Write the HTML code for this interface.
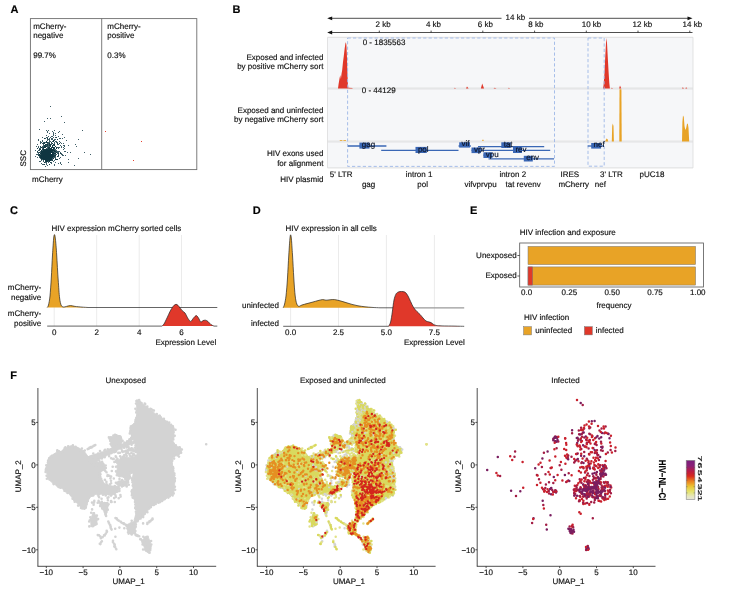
<!DOCTYPE html>
<html><head><meta charset="utf-8"><title>Figure</title>
<style>html,body{margin:0;padding:0;background:#fff}svg{display:block;will-change:transform}text{stroke:#111;stroke-width:.16px}</style></head>
<body>
<svg width="742" height="591" viewBox="0 0 742 591" font-family='"Liberation Sans", Arial, Helvetica, sans-serif' font-size="8" fill="#111" text-rendering="geometricPrecision">
<rect x="0.0" y="0.0" width="742.0" height="591.0" fill="#fff"/>
<text x="10.6" y="12.6" font-size="11" font-weight="bold" fill="#000">A</text>
<text x="232.5" y="12.6" font-size="11" font-weight="bold" fill="#000">B</text>
<text x="10.0" y="213.6" font-size="11" font-weight="bold" fill="#000">C</text>
<text x="252.7" y="213.6" font-size="11" font-weight="bold" fill="#000">D</text>
<text x="470.0" y="213.6" font-size="11" font-weight="bold" fill="#000">E</text>
<text x="10.3" y="378.8" font-size="11" font-weight="bold" fill="#000">F</text>
<rect x="30.4" y="18.6" width="166.4" height="151.0" fill="#fff" stroke="#6e6e6e" stroke-width="0.9"/>
<line x1="101.7" y1="18.6" x2="101.7" y2="169.6" stroke="#6e6e6e" stroke-width="0.9"/>
<text x="33.2" y="28.6">mCherry-</text>
<text x="33.2" y="38.3">negative</text>
<text x="33.2" y="58.3">99.7%</text>
<text x="107.3" y="28.6">mCherry-</text>
<text x="107.3" y="38.3">positive</text>
<text x="107.3" y="58.3">0.3%</text>
<text x="32.0" y="181.5">mCherry</text>
<text transform="translate(26.2,166.5) rotate(-90)">SSC</text>
<path d="M52 156.5h1M47 150.5h1M46 154.5h1M46 153.5h1M46 154.5h1M43 157.5h1M49 159.5h1M47 154.5h1M45 151.5h1M50 152.5h1M43 154.5h1M51 155.5h1M44 153.5h1M48 154.5h1M44 154.5h1M49 160.5h1M43 153.5h1M44 149.5h1M44 152.5h1M50 154.5h1M42 156.5h1M46 151.5h1M45 153.5h1M44 155.5h1M40 154.5h1M50 157.5h1M50 157.5h1M51 152.5h1M49 150.5h1M45 150.5h1M50 158.5h1M46 159.5h1M45 155.5h1M47 152.5h1M48 159.5h1M44 157.5h1M46 159.5h1M48 156.5h1M49 155.5h1M42 158.5h1M42 155.5h1M48 153.5h1M47 158.5h1M47 153.5h1M38 152.5h1M45 154.5h1M44 156.5h1M45 155.5h1M49 153.5h1M46 160.5h1M49 152.5h1M46 156.5h1M50 155.5h1M45 153.5h1M49 156.5h1M45 154.5h1M45 157.5h1M45 156.5h1M49 156.5h1M44 158.5h1M45 156.5h1M44 151.5h1M47 155.5h1M46 155.5h1M45 153.5h1M46 159.5h1M49 154.5h1M48 154.5h1M45 157.5h1M45 151.5h1M44 155.5h1M47 158.5h1M44 157.5h1M48 154.5h1M49 156.5h1M44 157.5h1M43 155.5h1M47 156.5h1M44 155.5h1M46 157.5h1M44 155.5h1M46 152.5h1M55 155.5h1M42 158.5h1M43 156.5h1M49 153.5h1M45 154.5h1M46 151.5h1M43 154.5h1M50 156.5h1M52 156.5h1M45 155.5h1M41 152.5h1M44 155.5h1M49 153.5h1M45 151.5h1M46 155.5h1M48 153.5h1M53 158.5h1M46 154.5h1M46 155.5h1M47 156.5h1M49 158.5h1M50 155.5h1M48 154.5h1M45 159.5h1M45 160.5h1M46 155.5h1M50 155.5h1M48 154.5h1M45 154.5h1M45 159.5h1M46 159.5h1M39 155.5h1M48 154.5h1M50 156.5h1M46 156.5h1M55 155.5h1M47 154.5h1M47 152.5h1M46 161.5h1M50 156.5h1M50 159.5h1M48 160.5h1M50 155.5h1M52 149.5h1M45 155.5h1M44 154.5h1M45 153.5h1M55 156.5h1M46 158.5h1M46 157.5h1M48 159.5h1M42 157.5h1M47 152.5h1M50 153.5h1M51 156.5h1M49 155.5h1M49 150.5h1M47 153.5h1M47 155.5h1M48 153.5h1M52 160.5h1M46 155.5h1M47 158.5h1M52 152.5h1M45 152.5h1M43 151.5h1M48 152.5h1M51 157.5h1M44 152.5h1M45 158.5h1M44 151.5h1M46 156.5h1M45 159.5h1M47 156.5h1M44 155.5h1M46 149.5h1M47 150.5h1M47 151.5h1M53 156.5h1M49 157.5h1M43 149.5h1M46 157.5h1M47 157.5h1M49 151.5h1M47 160.5h1M45 150.5h1M46 154.5h1M48 153.5h1M47 149.5h1M49 159.5h1M50 151.5h1M48 148.5h1M47 155.5h1M44 156.5h1M47 157.5h1M47 155.5h1M41 152.5h1M45 156.5h1M47 158.5h1M44 154.5h1M47 154.5h1M48 153.5h1M51 154.5h1M50 155.5h1M51 151.5h1M48 154.5h1M47 158.5h1M43 152.5h1M44 155.5h1M41 155.5h1M43 152.5h1M45 156.5h1M45 154.5h1M46 154.5h1M39 154.5h1M47 157.5h1M53 156.5h1M47 152.5h1M47 157.5h1M50 153.5h1M47 157.5h1M52 155.5h1M45 153.5h1M46 153.5h1M49 157.5h1M49 158.5h1M45 156.5h1M45 155.5h1M50 155.5h1M41 154.5h1M44 151.5h1M44 157.5h1M52 154.5h1M50 158.5h1M43 155.5h1M46 155.5h1M42 154.5h1M50 158.5h1M52 154.5h1M52 156.5h1M43 157.5h1M46 156.5h1M46 158.5h1M47 154.5h1M49 155.5h1M45 158.5h1M45 153.5h1M45 151.5h1M45 159.5h1M44 155.5h1M43 153.5h1M51 157.5h1M45 155.5h1M44 153.5h1M44 153.5h1M48 156.5h1M48 154.5h1M43 155.5h1M44 157.5h1M48 157.5h1M46 150.5h1M49 158.5h1M42 155.5h1M50 152.5h1M52 154.5h1M43 158.5h1M47 153.5h1M49 150.5h1M52 153.5h1M47 154.5h1M48 157.5h1M44 157.5h1M46 153.5h1M46 152.5h1M44 157.5h1M46 158.5h1M48 152.5h1M41 153.5h1M47 155.5h1M44 157.5h1M41 152.5h1M47 160.5h1M48 152.5h1M48 156.5h1M49 154.5h1M44 155.5h1M48 159.5h1M53 153.5h1M45 155.5h1M46 156.5h1M48 155.5h1M51 154.5h1M43 151.5h1M44 152.5h1M41 156.5h1M47 154.5h1M44 151.5h1M44 159.5h1M40 155.5h1M49 155.5h1M46 157.5h1M43 156.5h1M51 152.5h1M44 155.5h1M50 158.5h1M49 153.5h1M43 155.5h1M48 152.5h1M47 156.5h1M50 152.5h1M48 152.5h1M45 155.5h1M51 163.5h1M47 156.5h1M50 152.5h1M49 152.5h1M51 158.5h1M48 153.5h1M52 155.5h1M47 156.5h1M41 156.5h1M50 156.5h1M47 153.5h1M49 155.5h1M47 153.5h1M49 158.5h1M48 157.5h1M51 159.5h1M47 154.5h1M45 155.5h1M48 157.5h1M45 155.5h1M44 158.5h1M45 156.5h1M44 154.5h1M45 159.5h1M48 154.5h1M44 153.5h1M48 159.5h1M42 153.5h1M46 153.5h1M42 155.5h1M49 151.5h1M47 157.5h1M50 154.5h1M54 156.5h1M44 157.5h1M43 157.5h1M43 157.5h1M45 158.5h1M49 156.5h1M47 157.5h1M41 156.5h1M48 156.5h1M49 164.5h1M47 157.5h1M47 159.5h1M41 159.5h1M45 149.5h1M43 154.5h1M47 155.5h1M49 155.5h1M46 150.5h1M48 157.5h1M45 150.5h1M43 159.5h1M45 153.5h1M44 156.5h1M45 153.5h1M42 155.5h1M50 154.5h1M49 155.5h1M47 155.5h1M47 157.5h1M48 153.5h1M47 155.5h1M48 155.5h1M48 151.5h1M48 158.5h1M43 159.5h1M47 154.5h1M41 157.5h1M44 154.5h1M48 152.5h1M44 152.5h1M46 156.5h1M48 156.5h1M46 155.5h1M45 160.5h1M47 150.5h1M43 159.5h1M43 154.5h1M48 152.5h1M50 159.5h1M44 158.5h1M44 152.5h1M47 155.5h1M45 157.5h1M42 153.5h1M43 157.5h1M49 156.5h1M43 155.5h1M48 151.5h1M44 156.5h1M49 155.5h1M48 156.5h1M47 155.5h1M44 154.5h1M45 160.5h1M47 155.5h1M46 155.5h1M46 156.5h1M47 157.5h1M45 156.5h1M49 152.5h1M47 155.5h1M46 154.5h1M41 158.5h1M44 152.5h1M49 150.5h1M49 156.5h1M48 154.5h1M43 150.5h1M51 154.5h1M45 159.5h1M45 154.5h1M46 154.5h1M43 153.5h1M50 157.5h1M38 150.5h1M48 155.5h1M45 157.5h1M41 158.5h1M47 156.5h1M47 157.5h1M46 153.5h1M49 155.5h1M43 158.5h1M50 158.5h1M47 156.5h1M45 152.5h1M47 155.5h1M45 159.5h1M42 153.5h1M45 158.5h1M46 154.5h1M44 153.5h1M43 157.5h1M48 157.5h1M45 161.5h1M44 150.5h1M46 155.5h1M49 152.5h1M48 159.5h1M44 153.5h1M41 155.5h1M49 157.5h1M49 158.5h1M47 157.5h1M44 153.5h1M47 153.5h1M48 158.5h1M48 153.5h1M44 158.5h1M44 155.5h1M46 155.5h1M50 154.5h1M42 158.5h1M47 157.5h1M47 157.5h1M50 158.5h1M46 154.5h1M48 155.5h1M48 153.5h1M40 156.5h1M49 156.5h1M52 157.5h1M45 157.5h1M46 158.5h1M47 156.5h1M47 155.5h1M42 155.5h1M40 156.5h1M50 160.5h1M48 153.5h1M42 159.5h1M42 157.5h1M40 155.5h1M49 156.5h1M46 153.5h1M44 157.5h1M48 154.5h1M47 153.5h1M50 158.5h1M44 155.5h1M50 153.5h1M53 158.5h1M46 157.5h1M52 152.5h1M48 154.5h1M46 157.5h1M45 151.5h1M42 155.5h1M48 155.5h1M46 155.5h1M50 156.5h1M44 154.5h1M50 153.5h1M45 155.5h1M43 157.5h1M40 158.5h1M45 152.5h1M47 151.5h1M48 157.5h1M45 154.5h1M49 153.5h1M47 156.5h1M51 154.5h1M47 158.5h1M39 154.5h1M41 150.5h1M52 155.5h1M51 154.5h1M48 154.5h1M45 155.5h1M47 158.5h1M46 156.5h1M46 155.5h1M43 157.5h1M45 155.5h1M46 157.5h1M48 155.5h1M47 156.5h1M49 156.5h1M50 159.5h1M48 152.5h1M52 160.5h1M46 154.5h1M40 157.5h1M44 159.5h1M39 155.5h1M49 154.5h1M44 155.5h1M45 154.5h1M46 153.5h1M46 157.5h1M45 155.5h1M44 157.5h1M43 157.5h1M38 153.5h1M42 157.5h1M47 152.5h1M45 158.5h1M46 156.5h1M42 151.5h1M48 160.5h1M45 156.5h1M44 158.5h1M45 154.5h1M41 154.5h1M47 158.5h1M43 157.5h1M45 154.5h1M44 151.5h1M43 159.5h1M43 154.5h1M50 150.5h1M48 153.5h1M47 157.5h1M46 154.5h1M49 156.5h1M44 154.5h1M42 158.5h1M43 155.5h1M52 157.5h1M46 153.5h1M45 157.5h1M47 155.5h1M54 153.5h1M45 154.5h1M47 155.5h1M46 156.5h1M48 154.5h1M39 157.5h1M44 153.5h1M46 152.5h1M44 155.5h1M45 155.5h1M44 154.5h1M43 154.5h1M47 154.5h1M42 154.5h1M47 157.5h1M46 154.5h1M43 159.5h1M43 152.5h1M46 150.5h1M50 155.5h1M48 152.5h1M45 157.5h1M49 161.5h1M50 150.5h1M47 154.5h1M50 154.5h1M48 154.5h1M48 158.5h1M45 150.5h1M43 158.5h1M47 154.5h1M44 157.5h1M47 154.5h1M45 154.5h1M45 156.5h1M50 150.5h1M42 154.5h1M47 151.5h1M45 154.5h1M45 154.5h1M46 157.5h1M49 156.5h1M47 153.5h1M45 156.5h1M47 157.5h1M47 155.5h1M48 151.5h1M46 153.5h1M49 153.5h1M47 154.5h1M48 156.5h1M46 155.5h1M47 157.5h1M45 155.5h1M45 152.5h1M47 156.5h1M44 158.5h1M44 156.5h1M48 151.5h1M46 151.5h1M46 156.5h1M52 156.5h1M42 154.5h1M51 155.5h1M52 153.5h1M45 151.5h1M45 158.5h1M44 157.5h1M48 157.5h1M46 155.5h1M53 152.5h1M49 158.5h1M48 159.5h1M37 154.5h1M43 154.5h1M46 156.5h1M44 157.5h1M42 157.5h1M46 150.5h1M41 150.5h1M43 155.5h1M50 156.5h1M42 149.5h1M45 151.5h1M46 153.5h1M54 150.5h1M47 159.5h1M45 153.5h1M51 149.5h1M41 152.5h1M47 156.5h1M46 160.5h1M46 154.5h1M45 157.5h1M46 154.5h1M51 158.5h1M49 151.5h1M43 154.5h1M46 154.5h1M46 156.5h1M43 155.5h1M45 153.5h1M46 156.5h1M47 153.5h1M47 155.5h1M48 154.5h1M49 156.5h1M43 152.5h1M42 156.5h1M44 154.5h1M46 158.5h1M53 154.5h1M53 156.5h1M50 154.5h1M43 156.5h1M50 151.5h1M46 155.5h1M48 152.5h1M45 157.5h1M52 155.5h1M50 155.5h1M48 154.5h1M46 153.5h1M47 157.5h1M47 156.5h1M45 157.5h1M37 151.5h1M46 150.5h1M48 155.5h1M44 155.5h1M42 153.5h1M45 151.5h1M50 153.5h1M50 154.5h1M48 153.5h1M46 154.5h1M47 158.5h1M45 154.5h1M48 157.5h1M46 154.5h1M45 155.5h1M47 153.5h1M46 157.5h1M47 153.5h1M49 157.5h1M48 156.5h1M45 155.5h1M48 155.5h1M41 155.5h1M48 156.5h1M46 155.5h1M41 151.5h1M38 154.5h1M51 159.5h1M43 156.5h1M50 154.5h1M41 158.5h1M46 154.5h1M52 156.5h1M49 159.5h1M46 152.5h1M49 155.5h1M49 156.5h1M44 155.5h1M46 154.5h1M47 156.5h1M47 152.5h1M49 151.5h1M53 153.5h1M47 158.5h1M46 152.5h1M42 156.5h1M48 157.5h1M48 154.5h1M48 158.5h1M44 164.5h1M45 158.5h1M52 157.5h1M48 157.5h1M51 149.5h1M48 154.5h1M45 155.5h1M47 156.5h1M45 158.5h1M40 153.5h1M43 155.5h1M45 156.5h1M44 158.5h1M49 154.5h1M42 152.5h1M42 158.5h1M49 152.5h1M52 154.5h1M40 157.5h1M51 155.5h1M44 158.5h1M45 155.5h1M48 156.5h1M45 152.5h1M49 149.5h1M48 155.5h1M48 154.5h1M47 157.5h1M43 155.5h1M48 152.5h1M44 159.5h1M50 153.5h1M49 156.5h1M51 158.5h1M39 154.5h1M51 159.5h1M45 152.5h1M47 153.5h1M47 152.5h1M49 156.5h1M48 152.5h1M42 152.5h1M48 150.5h1M49 159.5h1M45 154.5h1M50 157.5h1M45 154.5h1M47 154.5h1M48 156.5h1M51 151.5h1M50 157.5h1M46 156.5h1M50 156.5h1M46 156.5h1M45 152.5h1M44 153.5h1M47 157.5h1M47 158.5h1M46 153.5h1M44 153.5h1M46 158.5h1M42 156.5h1M47 157.5h1M45 157.5h1M45 156.5h1M41 156.5h1M49 151.5h1M49 152.5h1M50 155.5h1M49 156.5h1M43 159.5h1M50 152.5h1M48 156.5h1M45 152.5h1M51 154.5h1M50 160.5h1M48 153.5h1M50 152.5h1M44 162.5h1M44 156.5h1M44 155.5h1M47 149.5h1M45 157.5h1M49 156.5h1M44 156.5h1M45 153.5h1M47 160.5h1M44 157.5h1M48 151.5h1M44 155.5h1M45 156.5h1M44 153.5h1M50 155.5h1M44 155.5h1M52 154.5h1M42 157.5h1M53 158.5h1M43 150.5h1M51 154.5h1M48 154.5h1M52 155.5h1M46 155.5h1M43 155.5h1M46 150.5h1M43 152.5h1M42 156.5h1M50 156.5h1M42 151.5h1M49 154.5h1M46 152.5h1M41 160.5h1M45 154.5h1M43 158.5h1M46 154.5h1M47 155.5h1M51 150.5h1M48 153.5h1M45 153.5h1M48 152.5h1M45 156.5h1M45 154.5h1M48 155.5h1M45 155.5h1M44 157.5h1M43 151.5h1M48 152.5h1M44 154.5h1M49 154.5h1M45 154.5h1M48 153.5h1M47 158.5h1M46 154.5h1M44 153.5h1M43 152.5h1M45 155.5h1M48 154.5h1M47 152.5h1M53 161.5h1M46 156.5h1M47 156.5h1M44 151.5h1M49 152.5h1M47 152.5h1M44 157.5h1M51 154.5h1M45 155.5h1M45 150.5h1M46 149.5h1M48 153.5h1M47 151.5h1M44 156.5h1M50 157.5h1M48 152.5h1M48 155.5h1M45 158.5h1M44 159.5h1M44 153.5h1M46 151.5h1M45 155.5h1M41 153.5h1M42 154.5h1M50 154.5h1M46 155.5h1M43 155.5h1M45 153.5h1M41 153.5h1M49 158.5h1M45 155.5h1M45 152.5h1M41 159.5h1M43 155.5h1M51 154.5h1M46 155.5h1M45 155.5h1M45 157.5h1M48 152.5h1M42 153.5h1M45 153.5h1M49 153.5h1M45 155.5h1M41 156.5h1M48 158.5h1M44 154.5h1M47 154.5h1M42 157.5h1M46 156.5h1M43 157.5h1M46 153.5h1M49 157.5h1M44 157.5h1M51 155.5h1M42 156.5h1M50 152.5h1M52 154.5h1M46 157.5h1M47 158.5h1M47 156.5h1M47 155.5h1M48 156.5h1M46 157.5h1M46 158.5h1M48 155.5h1M44 155.5h1M51 155.5h1M50 155.5h1M46 153.5h1M41 156.5h1M47 155.5h1M49 152.5h1M52 151.5h1M47 152.5h1M46 158.5h1M42 155.5h1M47 155.5h1M47 157.5h1M50 154.5h1M52 156.5h1M47 146.5h1M52 151.5h1M56 150.5h1M42 158.5h1M44 145.5h1M54 145.5h1M54 148.5h1M50 154.5h1M39 152.5h1M46 153.5h1M50 160.5h1M47 152.5h1M58 156.5h1M52 145.5h1M41 150.5h1M47 155.5h1M61 146.5h1M46 156.5h1M49 158.5h1M46 148.5h1M58 155.5h1M42 151.5h1M47 145.5h1M52 153.5h1M46 149.5h1M56 152.5h1M44 142.5h1M42 156.5h1M55 146.5h1M37 152.5h1M47 157.5h1M44 153.5h1M38 146.5h1M45 150.5h1M50 158.5h1M40 161.5h1M44 150.5h1M53 140.5h1M40 148.5h1M48 158.5h1M53 148.5h1M51 150.5h1M55 151.5h1M53 147.5h1M52 146.5h1M48 144.5h1M47 148.5h1M43 154.5h1M52 153.5h1M49 156.5h1M54 157.5h1M50 162.5h1M45 156.5h1M42 164.5h1M46 153.5h1M55 151.5h1M43 143.5h1M46 163.5h1M49 161.5h1M52 150.5h1M41 151.5h1M51 151.5h1M49 155.5h1M46 145.5h1M46 155.5h1M43 147.5h1M43 151.5h1M47 152.5h1M41 152.5h1M44 147.5h1M38 147.5h1M44 153.5h1M49 152.5h1M49 146.5h1M51 156.5h1M51 150.5h1M47 150.5h1M41 150.5h1M40 143.5h1M50 155.5h1M52 150.5h1M48 155.5h1M46 142.5h1M59 158.5h1M54 153.5h1M44 153.5h1M49 145.5h1M45 155.5h1M55 155.5h1M46 146.5h1M58 153.5h1M52 153.5h1M41 163.5h1M51 159.5h1M44 152.5h1M55 151.5h1M44 147.5h1M41 157.5h1M47 143.5h1M55 159.5h1M54 143.5h1M48 159.5h1M43 148.5h1M47 142.5h1M49 157.5h1M51 160.5h1M48 152.5h1M47 149.5h1M42 149.5h1M47 150.5h1M48 153.5h1M51 150.5h1M37 148.5h1M57 156.5h1M46 151.5h1M47 150.5h1M49 156.5h1M54 151.5h1M46 151.5h1M48 158.5h1M44 164.5h1M51 158.5h1M43 151.5h1M45 153.5h1M38 155.5h1M39 154.5h1M53 152.5h1M47 152.5h1M47 154.5h1M52 156.5h1M55 153.5h1M45 150.5h1M42 151.5h1M45 162.5h1M51 162.5h1M39 154.5h1M53 155.5h1M46 154.5h1M49 154.5h1M50 158.5h1M49 154.5h1M48 155.5h1M45 156.5h1M47 157.5h1M45 153.5h1M48 148.5h1M54 155.5h1M49 159.5h1M47 153.5h1M54 165.5h1M49 161.5h1M49 149.5h1M51 159.5h1M49 155.5h1M43 142.5h1M50 146.5h1M48 150.5h1M49 157.5h1M40 152.5h1M47 159.5h1M48 148.5h1M45 161.5h1M43 153.5h1M49 147.5h1M44 143.5h1M43 156.5h1M49 143.5h1M55 146.5h1M43 160.5h1M50 152.5h1M55 152.5h1M50 150.5h1M47 152.5h1M53 149.5h1M47 142.5h1M39 156.5h1M46 151.5h1M51 151.5h1M48 151.5h1M38 155.5h1M55 158.5h1M48 154.5h1M50 160.5h1M54 151.5h1M47 151.5h1M45 149.5h1M47 140.5h1M49 150.5h1M41 151.5h1M44 158.5h1M42 152.5h1M49 148.5h1M41 154.5h1M45 147.5h1M40 155.5h1M55 149.5h1M50 158.5h1M52 149.5h1M50 156.5h1M60 153.5h1M53 156.5h1M51 148.5h1M49 160.5h1M46 154.5h1M44 154.5h1M50 156.5h1M46 150.5h1M45 154.5h1M49 164.5h1M45 156.5h1M45 150.5h1M53 155.5h1M50 146.5h1M60 163.5h1M44 146.5h1M44 154.5h1M43 154.5h1M45 166.5h1M47 150.5h1M58 154.5h1M48 152.5h1M51 150.5h1M48 150.5h1M41 151.5h1M49 160.5h1M49 151.5h1M48 155.5h1M37 151.5h1M37 144.5h1M44 152.5h1M48 153.5h1M54 155.5h1M50 151.5h1M57 159.5h1M45 150.5h1M52 157.5h1M46 158.5h1M42 152.5h1M53 150.5h1M49 153.5h1M47 144.5h1M46 154.5h1M49 156.5h1M53 151.5h1M47 161.5h1M52 153.5h1M47 158.5h1M53 152.5h1M50 153.5h1M48 162.5h1M42 157.5h1M43 149.5h1M52 146.5h1M44 147.5h1M45 154.5h1M54 150.5h1M53 147.5h1M58 151.5h1M46 154.5h1M48 152.5h1M40 157.5h1M51 151.5h1M42 154.5h1M53 144.5h1M42 153.5h1M44 151.5h1M47 156.5h1M52 157.5h1M52 149.5h1M36 154.5h1M50 155.5h1M44 162.5h1M40 156.5h1M51 157.5h1M55 155.5h1M49 151.5h1M51 154.5h1M52 147.5h1M40 153.5h1M50 145.5h1M43 151.5h1M49 154.5h1M53 152.5h1M50 159.5h1M46 164.5h1M46 153.5h1M39 152.5h1M45 149.5h1M49 147.5h1M49 143.5h1M45 159.5h1M48 155.5h1M43 146.5h1M55 157.5h1M52 153.5h1M54 150.5h1M51 156.5h1M43 159.5h1M48 156.5h1M41 147.5h1M46 155.5h1M53 154.5h1M47 155.5h1M47 153.5h1M50 149.5h1M50 145.5h1M44 156.5h1M45 155.5h1M49 152.5h1M55 155.5h1M45 150.5h1M48 145.5h1M53 152.5h1M39 148.5h1M55 154.5h1M58 153.5h1M50 162.5h1M58 148.5h1M52 147.5h1M46 144.5h1M51 148.5h1M44 162.5h1M52 152.5h1M39 154.5h1M37 148.5h1M51 156.5h1M48 156.5h1M49 149.5h1M48 161.5h1M48 154.5h1M50 146.5h1M43 145.5h1M50 151.5h1M42 146.5h1M51 157.5h1M50 153.5h1M50 153.5h1M49 150.5h1M43 149.5h1M49 161.5h1M43 147.5h1M51 156.5h1M44 149.5h1M45 154.5h1M63 149.5h1M49 150.5h1M48 154.5h1M49 147.5h1M43 157.5h1M49 153.5h1M50 148.5h1M53 148.5h1M42 147.5h1M47 165.5h1M48 153.5h1M55 150.5h1M40 149.5h1M45 144.5h1M46 152.5h1M57 156.5h1M48 149.5h1M44 143.5h1M46 141.5h1M46 160.5h1M45 154.5h1M43 143.5h1M48 151.5h1M49 152.5h1M50 149.5h1M50 157.5h1M44 150.5h1M52 154.5h1M46 144.5h1M46 159.5h1M45 151.5h1M43 151.5h1M47 153.5h1M44 146.5h1M57 153.5h1M43 151.5h1M50 157.5h1M49 150.5h1M50 145.5h1M43 158.5h1M48 152.5h1M44 146.5h1M48 152.5h1M56 148.5h1M47 150.5h1M43 161.5h1M54 153.5h1M40 153.5h1M50 149.5h1M39 161.5h1M41 157.5h1M44 150.5h1M52 146.5h1M46 152.5h1M53 157.5h1M48 146.5h1M53 150.5h1M49 143.5h1M46 154.5h1M46 155.5h1M54 160.5h1M45 144.5h1M35 150.5h1M39 154.5h1M37 157.5h1M47 144.5h1M49 155.5h1M50 152.5h1M50 154.5h1M45 152.5h1M41 156.5h1M41 151.5h1M41 156.5h1M48 147.5h1M48 151.5h1M50 152.5h1M47 151.5h1M39 154.5h1M51 147.5h1M49 157.5h1M51 158.5h1M52 150.5h1M58 152.5h1M44 159.5h1M44 156.5h1M44 158.5h1M54 150.5h1M50 156.5h1M47 155.5h1M47 149.5h1M43 154.5h1M50 157.5h1M50 156.5h1M46 161.5h1M44 156.5h1M47 151.5h1M58 155.5h1M43 155.5h1M46 162.5h1M44 153.5h1M46 150.5h1M52 158.5h1M54 152.5h1M45 156.5h1M46 161.5h1M41 155.5h1M42 148.5h1M40 146.5h1M51 149.5h1M43 147.5h1M43 150.5h1M52 153.5h1M48 152.5h1M51 148.5h1M49 147.5h1M43 156.5h1M48 151.5h1M43 155.5h1M58 155.5h1M51 152.5h1M54 151.5h1M62 154.5h1M48 159.5h1M43 149.5h1M44 152.5h1M56 148.5h1M60 157.5h1M56 154.5h1M41 147.5h1M54 151.5h1M50 154.5h1M55 159.5h1M50 153.5h1M53 148.5h1M45 146.5h1M44 145.5h1M52 152.5h1M57 151.5h1M50 151.5h1M52 156.5h1M47 154.5h1M44 150.5h1M43 157.5h1M43 147.5h1M53 152.5h1M41 147.5h1M45 147.5h1M47 147.5h1M42 156.5h1M56 159.5h1M46 155.5h1M47 161.5h1M49 155.5h1M57 159.5h1M48 148.5h1M46 146.5h1M56 152.5h1M51 154.5h1M44 154.5h1M50 152.5h1M48 154.5h1M43 152.5h1M46 149.5h1M49 142.5h1M41 152.5h1M55 155.5h1M44 159.5h1M48 149.5h1M47 160.5h1M52 149.5h1M43 155.5h1M42 150.5h1M51 147.5h1M44 153.5h1M46 159.5h1M48 155.5h1M51 150.5h1M52 159.5h1M47 150.5h1M46 159.5h1M48 150.5h1M42 152.5h1M41 157.5h1M44 146.5h1M52 154.5h1M50 148.5h1M51 154.5h1M48 157.5h1M53 152.5h1M55 155.5h1M47 155.5h1M49 160.5h1M49 152.5h1M48 156.5h1M40 146.5h1M46 155.5h1M51 151.5h1M40 142.5h1M47 150.5h1M49 157.5h1M43 159.5h1M45 151.5h1M48 143.5h1M59 151.5h1M53 149.5h1M40 147.5h1M42 143.5h1M35 156.5h1M44 153.5h1M53 150.5h1M48 157.5h1M49 153.5h1M43 148.5h1M51 151.5h1M54 149.5h1M51 149.5h1M50 152.5h1M38 140.5h1M51 155.5h1M40 141.5h1M52 153.5h1M47 132.5h1M51 149.5h1M52 147.5h1M53 140.5h1M52 150.5h1M49 139.5h1M46 149.5h1M46 153.5h1M51 143.5h1M54 144.5h1M61 154.5h1M46 142.5h1M39 150.5h1M52 146.5h1M42 154.5h1M56 142.5h1M46 141.5h1M54 147.5h1M49 143.5h1M42 141.5h1M40 151.5h1M49 144.5h1M47 138.5h1M38 139.5h1M46 141.5h1M54 150.5h1M44 138.5h1M54 130.5h1M47 149.5h1M50 141.5h1M53 140.5h1M45 146.5h1M48 148.5h1M55 153.5h1M36 146.5h1M52 150.5h1M47 142.5h1M51 139.5h1M40 149.5h1M53 137.5h1M55 139.5h1M51 136.5h1M49 140.5h1M46 146.5h1M52 138.5h1M57 139.5h1M41 142.5h1M59 141.5h1M42 140.5h1M51 148.5h1M51 151.5h1M60 145.5h1M52 145.5h1M51 152.5h1M51 138.5h1M54 154.5h1M51 157.5h1M55 135.5h1M47 137.5h1M47 139.5h1M50 148.5h1M39 149.5h1M49 151.5h1M48 130.5h1M49 147.5h1M51 144.5h1M44 138.5h1M45 138.5h1M49 147.5h1M54 147.5h1M49 148.5h1M49 138.5h1M54 144.5h1M49 152.5h1M52 149.5h1M60 152.5h1M54 145.5h1M39 129.5h1M44 159.5h1M48 142.5h1M52 152.5h1M51 148.5h1M51 142.5h1M46 130.5h1M49 144.5h1M51 150.5h1M42 137.5h1M53 134.5h1M50 144.5h1M52 139.5h1M52 136.5h1M53 144.5h1M47 145.5h1M56 137.5h1M48 136.5h1M54 148.5h1M44 142.5h1M43 144.5h1M54 140.5h1M49 133.5h1M58 136.5h1M49 141.5h1M54 142.5h1M46 135.5h1M55 133.5h1M57 152.5h1M59 138.5h1M45 145.5h1M55 137.5h1M56 137.5h1M53 145.5h1M50 144.5h1M53 133.5h1M55 141.5h1M48 139.5h1M53 147.5h1M47 138.5h1M59 143.5h1M52 143.5h1M55 153.5h1M55 155.5h1M59 131.5h1M46 137.5h1M53 147.5h1M43 155.5h1M51 155.5h1M46 150.5h1M57 143.5h1M52 145.5h1M48 147.5h1M39 149.5h1M50 137.5h1M53 132.5h1M44 152.5h1M53 141.5h1M57 143.5h1M49 145.5h1M53 148.5h1M45 142.5h1M53 152.5h1M51 151.5h1M54 139.5h1M49 158.5h1M48 150.5h1M43 164.5h1M46 149.5h1M53 135.5h1M49 152.5h1M46 151.5h1M48 153.5h1M62 138.5h1M52 141.5h1M45 145.5h1M51 148.5h1M52 131.5h1M47 131.5h1M51 150.5h1M51 142.5h1M52 150.5h1M53 141.5h1M48 153.5h1M50 146.5h1M50 149.5h1M58 147.5h1M56 148.5h1M53 154.5h1M68 162.5h1M64 151.5h1M64 146.5h1M53 154.5h1M54 156.5h1M55 162.5h1M70 152.5h1M55 146.5h1M52 143.5h1M56 147.5h1M60 153.5h1M56 151.5h1M62 155.5h1M61 147.5h1M64 145.5h1M64 137.5h1M56 147.5h1M60 138.5h1M57 142.5h1M58 163.5h1M54 164.5h1M52 155.5h1M78 158.5h1M58 132.5h1M61 153.5h1M60 142.5h1M57 139.5h1M65 155.5h1M75 144.5h1M53 154.5h1M59 143.5h1M56 141.5h1M61 164.5h1M74 165.5h1M68 145.5h1M65 151.5h1M63 145.5h1M60 162.5h1M66 140.5h1M57 144.5h1M76 146.5h1M61 143.5h1M62 134.5h1M52 143.5h1M56 159.5h1M63 155.5h1M64 148.5h1M59 147.5h1M54 145.5h1M63 143.5h1M67 152.5h1M54 153.5h1M57 147.5h1M63 147.5h1M68 159.5h1M58 144.5h1M50 106.5h1M61 116.5h1M64 122.5h1M82 130.5h1M78 139.5h1M84 152.5h1M90 154.5h1M47 118.5h1M44 121.5h1M50 118.5h1" stroke="#0f3641" stroke-width="1" fill="none" stroke-opacity="0.8"/>
<path d="M105 131.5h1M141 141.5h1M133 160.5h1" stroke="#e8402e" stroke-width="1" fill="none"/>
<line x1="329.0" y1="18.3" x2="501.5" y2="18.3" stroke="#222" stroke-width="0.8"/>
<line x1="529.0" y1="18.3" x2="690.0" y2="18.3" stroke="#222" stroke-width="0.8"/>
<polygon points="327.2,18.3 332.2,16.4 332.2,20.2" fill="#111"/>
<polygon points="692.5,18.3 687.5,16.4 687.5,20.2" fill="#111"/>
<text x="515.4" y="20.2" text-anchor="middle">14 kb</text>
<line x1="329.0" y1="32.5" x2="692.5" y2="32.5" stroke="#222" stroke-width="0.8"/>
<polygon points="327.2,32.5 332.2,30.6 332.2,34.4" fill="#111"/>
<line x1="379.3" y1="30.6" x2="379.3" y2="32.5" stroke="#222" stroke-width="0.8"/>
<text x="383.1" y="27.0" text-anchor="middle">2 kb</text>
<line x1="431.1" y1="30.6" x2="431.1" y2="32.5" stroke="#222" stroke-width="0.8"/>
<text x="433.5" y="27.0" text-anchor="middle">4 kb</text>
<line x1="482.8" y1="30.6" x2="482.8" y2="32.5" stroke="#222" stroke-width="0.8"/>
<text x="485.4" y="27.0" text-anchor="middle">6 kb</text>
<line x1="534.6" y1="30.6" x2="534.6" y2="32.5" stroke="#222" stroke-width="0.8"/>
<text x="535.9" y="27.0" text-anchor="middle">8 kb</text>
<line x1="586.3" y1="30.6" x2="586.3" y2="32.5" stroke="#222" stroke-width="0.8"/>
<text x="591.5" y="27.0" text-anchor="middle">10 kb</text>
<line x1="638.0" y1="30.6" x2="638.0" y2="32.5" stroke="#222" stroke-width="0.8"/>
<text x="642.4" y="27.0" text-anchor="middle">12 kb</text>
<line x1="689.8" y1="30.6" x2="689.8" y2="32.5" stroke="#222" stroke-width="0.8"/>
<text x="692.4" y="27.0" text-anchor="middle">14 kb</text>
<rect x="327.5" y="37.3" width="365.5" height="130.6" fill="#f6f7f9"/>
<line x1="327.5" y1="37.3" x2="693.0" y2="37.3" stroke="#d8d8d8" stroke-width="0.8"/>
<line x1="327.5" y1="88.9" x2="693.0" y2="88.9" stroke="#d8d8d8" stroke-width="0.8"/>
<line x1="327.5" y1="141.9" x2="693.0" y2="141.9" stroke="#d8d8d8" stroke-width="0.8"/>
<line x1="327.5" y1="167.9" x2="693.0" y2="167.9" stroke="#d8d8d8" stroke-width="0.8"/>
<line x1="327.5" y1="87.7" x2="693.0" y2="87.7" stroke="#e3e3e3" stroke-width="0.6"/>
<line x1="327.5" y1="140.8" x2="693.0" y2="140.8" stroke="#e3e3e3" stroke-width="0.6"/>
<line x1="327.5" y1="37.3" x2="327.5" y2="167.9" stroke="#dcdcdc" stroke-width="0.8"/>
<line x1="693.0" y1="37.3" x2="693.0" y2="167.9" stroke="#dcdcdc" stroke-width="0.8"/>
<path d="M338.0 88.6 L338.6 84.0 L339.6 78.0 L340.3 75.0 L340.9 79.0 L341.5 74.0 L342.2 70.0 L343.0 62.0 L343.8 56.0 L344.6 49.0 L345.4 43.5 L345.9 42.2 L346.4 45.0 L346.9 55.0 L347.4 72.0 L347.9 84.0 L348.4 88.6Z" fill="#E0382A"/>
<path d="M348.4 88.6 L348.4 87.8 L352.5 87.9 L352.5 88.6Z" fill="#E0382A"/>
<path d="M603.0 88.6 L603.6 85.0 L604.4 74.0 L605.2 58.0 L606.0 43.0 L606.5 38.0 L607.0 43.0 L607.8 58.0 L608.6 72.0 L609.3 83.0 L609.9 88.6Z" fill="#E0382A"/>
<path d="M454.0 88.6 L454.8 87.7 L456.0 88.6Z" fill="#E0382A"/>
<path d="M466.0 88.6 L467.0 86.4 L468.6 88.6Z" fill="#E0382A"/>
<path d="M480.9 88.6 L482.2 83.6 L484.1 88.6Z" fill="#E0382A"/>
<path d="M493.5 88.6 L494.7 87.7 L496.5 88.6Z" fill="#E0382A"/>
<path d="M508.0 88.6 L508.8 87.7 L510.0 88.6Z" fill="#E0382A"/>
<path d="M611.0 88.6 L611.8 87.8 L613.0 88.6Z" fill="#E0382A"/>
<path d="M619.1 88.6 L620.0 85.6 L621.3 88.6Z" fill="#E0382A"/>
<path d="M682.0 88.6 L682.8 87.3 L684.0 88.6Z" fill="#E0382A"/>
<path d="M685.3 88.6 L686.1 87.3 L687.3 88.6Z" fill="#E0382A"/>
<path d="M605.0 141.6 L605.8 140.0 L606.6 138.6 L607.6 139.3 L608.3 141.6Z" fill="#E8A326"/>
<path d="M611.8 141.6 L612.2 126.0 L612.8 123.4 L613.5 126.0 L613.9 141.6Z" fill="#E8A326"/>
<path d="M619.3 141.6 L619.5 89.3 L621.4 89.3 L621.7 141.6Z" fill="#E8A326"/>
<path d="M682.0 141.6 L682.4 122.0 L683.0 115.4 L683.8 117.0 L684.5 126.0 L685.3 130.0 L686.2 128.0 L687.0 124.0 L687.8 123.4 L688.5 128.0 L689.2 141.6Z" fill="#E8A326"/>
<line x1="339.8" y1="140.5" x2="346.4" y2="140.5" stroke="#E8A326" stroke-width="0.8" stroke-dasharray="2.6 1"/>
<line x1="482.0" y1="140.3" x2="483.8" y2="140.3" stroke="#E8A326" stroke-width="0.9"/>
<rect x="347.6" y="38.0" width="206.9" height="128.4" fill="none" stroke="#9db7e6" stroke-width="0.9" stroke-dasharray="3.2 2.2"/>
<rect x="588.0" y="38.0" width="16.2" height="128.2" fill="none" stroke="#9db7e6" stroke-width="0.9" stroke-dasharray="3.2 2.2"/>
<line x1="347.9" y1="146.0" x2="386.4" y2="146.0" stroke="#3a67b5" stroke-width="1.3"/>
<rect x="359.4" y="142.6" width="10.1" height="6.0" fill="#3a67b5"/>
<line x1="381.2" y1="150.3" x2="458.5" y2="150.3" stroke="#3a67b5" stroke-width="1.3"/>
<rect x="415.5" y="146.9" width="11.3" height="6.1" fill="#3a67b5"/>
<line x1="458.5" y1="146.0" x2="471.0" y2="146.0" stroke="#3a67b5" stroke-width="1.3"/>
<rect x="459.2" y="142.3" width="10.8" height="5.3" fill="#3a67b5"/>
<line x1="471.5" y1="150.3" x2="481.5" y2="150.3" stroke="#3a67b5" stroke-width="1.3"/>
<rect x="471.5" y="147.5" width="9.5" height="5.6" fill="#3a67b5"/>
<line x1="478.0" y1="146.6" x2="544.2" y2="146.6" stroke="#3a67b5" stroke-width="1.3"/>
<rect x="501.3" y="142.3" width="9.5" height="5.7" fill="#3a67b5"/>
<line x1="481.0" y1="150.4" x2="550.2" y2="150.4" stroke="#3a67b5" stroke-width="1.3"/>
<rect x="513.0" y="147.0" width="9.0" height="6.0" fill="#3a67b5"/>
<line x1="483.4" y1="155.2" x2="492.3" y2="155.2" stroke="#3a67b5" stroke-width="1.3"/>
<rect x="483.4" y="152.3" width="8.9" height="5.7" fill="#3a67b5"/>
<line x1="488.5" y1="158.9" x2="554.0" y2="158.9" stroke="#3a67b5" stroke-width="1.3"/>
<rect x="523.8" y="155.8" width="9.0" height="5.7" fill="#3a67b5"/>
<line x1="587.7" y1="146.0" x2="604.0" y2="146.0" stroke="#3a67b5" stroke-width="1.3"/>
<rect x="591.2" y="143.0" width="9.9" height="5.6" fill="#3a67b5"/>
<text x="361.8" y="147.2" fill="#0a1630">gag</text>
<text x="417.9" y="151.6" fill="#0a1630">pol</text>
<text x="461.6" y="146.2" fill="#0a1630">vif</text>
<text x="473.9" y="151.7" fill="#0a1630">vpr</text>
<text x="503.7" y="146.6" fill="#0a1630">tat</text>
<text x="515.4" y="151.6" fill="#0a1630">rev</text>
<text x="485.8" y="156.6" fill="#0a1630">vpu</text>
<text x="526.2" y="160.1" fill="#0a1630">env</text>
<text x="593.6" y="147.2" fill="#0a1630">nef</text>
<text x="323.4" y="59.8" text-anchor="end">Exposed and infected</text>
<text x="323.4" y="69.3" text-anchor="end">by positive mCherry sort</text>
<text x="323.4" y="112.8" text-anchor="end">Exposed and uninfected</text>
<text x="323.4" y="122.3" text-anchor="end">by negative mCherry sort</text>
<text x="323.4" y="155.9" text-anchor="end">HIV exons used</text>
<text x="323.4" y="165.6" text-anchor="end">for alignment</text>
<text x="323.4" y="181.8" text-anchor="end">HIV plasmid</text>
<text x="362.7" y="44.6">0 - 1835563</text>
<text x="361.8" y="92.6">0 - 44129</text>
<text x="329.7" y="177.2">5' LTR</text>
<text x="405.7" y="177.2">intron 1</text>
<text x="499.4" y="177.2">intron 2</text>
<text x="560.5" y="177.2">IRES</text>
<text x="600.0" y="177.2">3' LTR</text>
<text x="639.6" y="177.2">pUC18</text>
<text x="361.9" y="186.6">gag</text>
<text x="417.3" y="186.6">pol</text>
<text x="464.6" y="186.6">vifvprvpu</text>
<text x="505.5" y="186.6">tat revenv</text>
<text x="558.4" y="186.6">mCherry</text>
<text x="594.8" y="186.6">nef</text>
<text x="51.5" y="231.0">HIV expression mCherry sorted cells</text>
<line x1="54.2" y1="235.0" x2="54.2" y2="326.2" stroke="#e6e6e6" stroke-width="0.8"/>
<line x1="96.7" y1="235.0" x2="96.7" y2="326.2" stroke="#e6e6e6" stroke-width="0.8"/>
<line x1="139.2" y1="235.0" x2="139.2" y2="326.2" stroke="#e6e6e6" stroke-width="0.8"/>
<line x1="181.5" y1="235.0" x2="181.5" y2="326.2" stroke="#e6e6e6" stroke-width="0.8"/>
<path d="M47.2 307.5C47.4 307.1 48.1 306.8 48.5 305.0C48.9 303.2 49.6 300.3 50.0 296.0C50.4 291.7 50.9 284.6 51.3 278.0C51.7 271.4 52.1 261.2 52.5 255.0C52.9 248.8 53.3 242.3 53.6 239.0C53.9 235.7 54.2 234.6 54.5 234.6C54.8 234.6 55.0 235.7 55.4 239.0C55.8 242.3 56.3 248.4 56.7 255.0C57.1 261.6 57.7 273.1 58.2 280.0C58.7 286.9 59.1 294.0 59.6 298.0C60.1 302.0 60.6 303.9 61.2 305.3C61.8 306.7 62.7 306.8 63.5 307.0C64.3 307.2 65.4 306.6 66.5 306.4C67.6 306.2 69.1 305.6 70.5 305.6C71.9 305.6 73.2 306.2 75.0 306.4C76.8 306.6 79.9 306.9 82.0 307.1C84.1 307.3 87.0 307.4 88.0 307.5L88.0 307.5L47.2 307.5Z" fill="#E8A326"/>
<path d="M47.2 307.5L47.2 307.5" fill="none"/>
<path d="M47.2 307.5L47.2 307.5C47.4 307.1 48.1 306.8 48.5 305.0C48.9 303.2 49.6 300.3 50.0 296.0C50.4 291.7 50.9 284.6 51.3 278.0C51.7 271.4 52.1 261.2 52.5 255.0C52.9 248.8 53.3 242.3 53.6 239.0C53.9 235.7 54.2 234.6 54.5 234.6C54.8 234.6 55.0 235.7 55.4 239.0C55.8 242.3 56.3 248.4 56.7 255.0C57.1 261.6 57.7 273.1 58.2 280.0C58.7 286.9 59.1 294.0 59.6 298.0C60.1 302.0 60.6 303.9 61.2 305.3C61.8 306.7 62.7 306.8 63.5 307.0C64.3 307.2 65.4 306.6 66.5 306.4C67.6 306.2 69.1 305.6 70.5 305.6C71.9 305.6 73.2 306.2 75.0 306.4C76.8 306.6 79.9 306.9 82.0 307.1C84.1 307.3 87.0 307.4 88.0 307.5L217.3 307.5" fill="none" stroke="#222" stroke-width="0.7" stroke-linejoin="round"/>
<path d="M161.8 326.1C162.2 325.8 163.2 325.3 164.0 324.0C164.8 322.7 166.0 320.0 167.0 318.0C168.0 316.0 169.0 313.3 170.0 311.5C171.0 309.7 172.2 307.6 173.0 306.5C173.8 305.4 174.6 304.9 175.2 304.6C175.8 304.3 176.4 304.3 177.0 304.6C177.6 304.9 178.2 305.6 179.0 306.5C179.8 307.4 181.0 309.5 182.0 310.5C183.0 311.5 184.0 311.7 185.0 313.0C186.0 314.3 187.1 317.2 188.0 318.5C188.9 319.8 189.9 321.5 190.8 321.4C191.7 321.3 192.6 318.9 193.5 318.0C194.4 317.1 195.5 315.6 196.3 315.6C197.1 315.6 197.8 317.0 198.5 318.0C199.2 319.0 200.1 321.6 200.8 322.0C201.5 322.4 202.2 320.9 203.0 320.6C203.8 320.3 204.7 320.1 205.5 320.2C206.3 320.3 207.1 320.8 208.0 321.5C208.9 322.2 210.0 323.9 211.0 324.6C212.0 325.3 213.5 325.9 214.0 326.1L214.0 326.1L161.8 326.1Z" fill="#E0382A"/>
<path d="M47.2 326.1L161.8 326.1" fill="none"/>
<path d="M47.2 326.1L161.8 326.1C162.2 325.8 163.2 325.3 164.0 324.0C164.8 322.7 166.0 320.0 167.0 318.0C168.0 316.0 169.0 313.3 170.0 311.5C171.0 309.7 172.2 307.6 173.0 306.5C173.8 305.4 174.6 304.9 175.2 304.6C175.8 304.3 176.4 304.3 177.0 304.6C177.6 304.9 178.2 305.6 179.0 306.5C179.8 307.4 181.0 309.5 182.0 310.5C183.0 311.5 184.0 311.7 185.0 313.0C186.0 314.3 187.1 317.2 188.0 318.5C188.9 319.8 189.9 321.5 190.8 321.4C191.7 321.3 192.6 318.9 193.5 318.0C194.4 317.1 195.5 315.6 196.3 315.6C197.1 315.6 197.8 317.0 198.5 318.0C199.2 319.0 200.1 321.6 200.8 322.0C201.5 322.4 202.2 320.9 203.0 320.6C203.8 320.3 204.7 320.1 205.5 320.2C206.3 320.3 207.1 320.8 208.0 321.5C208.9 322.2 210.0 323.9 211.0 324.6C212.0 325.3 213.5 325.9 214.0 326.1L217.3 326.1" fill="none" stroke="#222" stroke-width="0.7" stroke-linejoin="round"/>
<text x="54.2" y="335.2" text-anchor="middle">0</text>
<text x="96.7" y="335.2" text-anchor="middle">2</text>
<text x="139.2" y="335.2" text-anchor="middle">4</text>
<text x="181.5" y="335.2" text-anchor="middle">6</text>
<text x="216.3" y="345.0" text-anchor="end">Expression Level</text>
<text x="41.2" y="290.4" text-anchor="end">mCherry-</text>
<text x="41.2" y="299.9" text-anchor="end">negative</text>
<text x="41.2" y="316.3" text-anchor="end">mCherry-</text>
<text x="41.2" y="325.8" text-anchor="end">positive</text>
<text x="285.6" y="231.0">HIV expression in all cells</text>
<line x1="290.6" y1="235.0" x2="290.6" y2="326.4" stroke="#e6e6e6" stroke-width="0.8"/>
<line x1="338.5" y1="235.0" x2="338.5" y2="326.4" stroke="#e6e6e6" stroke-width="0.8"/>
<line x1="386.4" y1="235.0" x2="386.4" y2="326.4" stroke="#e6e6e6" stroke-width="0.8"/>
<line x1="434.4" y1="235.0" x2="434.4" y2="326.4" stroke="#e6e6e6" stroke-width="0.8"/>
<line x1="393.0" y1="307.8" x2="464.2" y2="307.8" stroke="#9a9a9a" stroke-width="1.3"/>
<path d="M283.2 307.8C283.4 307.2 284.2 305.9 284.6 304.0C285.0 302.1 285.5 300.2 286.0 296.0C286.5 291.8 287.1 284.6 287.5 278.0C287.9 271.4 288.4 261.2 288.8 255.0C289.2 248.8 289.6 242.2 289.9 239.0C290.2 235.8 290.4 234.8 290.6 234.8C290.8 234.8 291.1 235.8 291.4 239.0C291.7 242.2 292.1 248.8 292.5 255.0C292.9 261.2 293.4 271.4 293.8 278.0C294.2 284.6 294.7 291.8 295.2 296.0C295.7 300.2 296.2 302.4 296.8 304.0C297.4 305.6 298.0 306.1 298.8 306.3C299.6 306.5 300.7 305.4 302.0 305.0C303.3 304.6 305.2 304.1 307.0 303.6C308.8 303.1 311.2 302.5 313.0 302.0C314.8 301.5 316.5 301.0 318.0 300.6C319.5 300.2 321.2 299.7 322.5 299.6C323.8 299.5 324.8 300.2 326.0 300.2C327.2 300.2 328.6 299.9 330.0 299.8C331.4 299.7 332.9 299.4 334.5 299.6C336.1 299.8 338.2 300.3 340.0 300.8C341.8 301.3 344.1 302.0 346.0 302.6C347.9 303.2 350.1 303.9 352.0 304.4C353.9 304.9 355.9 305.4 358.0 305.8C360.1 306.2 362.8 306.5 365.0 306.8C367.2 307.1 369.6 307.2 372.0 307.4C374.4 307.6 378.7 307.7 380.0 307.8L380.0 307.8L283.2 307.8Z" fill="#E8A326"/>
<path d="M283.2 307.8L283.2 307.8" fill="none"/>
<path d="M283.2 307.8L283.2 307.8C283.4 307.2 284.2 305.9 284.6 304.0C285.0 302.1 285.5 300.2 286.0 296.0C286.5 291.8 287.1 284.6 287.5 278.0C287.9 271.4 288.4 261.2 288.8 255.0C289.2 248.8 289.6 242.2 289.9 239.0C290.2 235.8 290.4 234.8 290.6 234.8C290.8 234.8 291.1 235.8 291.4 239.0C291.7 242.2 292.1 248.8 292.5 255.0C292.9 261.2 293.4 271.4 293.8 278.0C294.2 284.6 294.7 291.8 295.2 296.0C295.7 300.2 296.2 302.4 296.8 304.0C297.4 305.6 298.0 306.1 298.8 306.3C299.6 306.5 300.7 305.4 302.0 305.0C303.3 304.6 305.2 304.1 307.0 303.6C308.8 303.1 311.2 302.5 313.0 302.0C314.8 301.5 316.5 301.0 318.0 300.6C319.5 300.2 321.2 299.7 322.5 299.6C323.8 299.5 324.8 300.2 326.0 300.2C327.2 300.2 328.6 299.9 330.0 299.8C331.4 299.7 332.9 299.4 334.5 299.6C336.1 299.8 338.2 300.3 340.0 300.8C341.8 301.3 344.1 302.0 346.0 302.6C347.9 303.2 350.1 303.9 352.0 304.4C353.9 304.9 355.9 305.4 358.0 305.8C360.1 306.2 362.8 306.5 365.0 306.8C367.2 307.1 369.6 307.2 372.0 307.4C374.4 307.6 378.7 307.7 380.0 307.8L394 307.8" fill="none" stroke="#222" stroke-width="0.7" stroke-linejoin="round"/>
<path d="M388.6 326.3C388.9 325.6 390.0 324.3 390.6 322.0C391.2 319.7 391.8 315.5 392.3 312.0C392.8 308.5 393.4 302.8 394.0 300.0C394.6 297.2 395.2 295.6 395.8 294.4C396.4 293.2 396.9 292.8 397.6 292.4C398.3 292.0 399.1 291.7 400.0 291.6C400.9 291.5 402.1 291.4 403.0 291.6C403.9 291.8 404.8 291.9 405.6 292.6C406.4 293.3 407.2 294.6 408.0 296.0C408.8 297.4 409.7 299.6 410.6 301.5C411.5 303.4 412.6 306.0 413.6 307.6C414.6 309.2 416.0 310.5 417.0 311.6C418.0 312.7 419.0 313.4 420.0 314.4C421.0 315.4 422.0 316.9 423.0 318.0C424.0 319.1 425.1 320.4 426.0 321.0C426.9 321.6 427.8 321.5 428.6 321.8C429.4 322.1 430.2 322.2 431.0 322.6C431.8 323.0 432.6 323.9 433.5 324.4C434.4 324.9 435.1 325.3 436.5 325.5C437.9 325.7 439.0 325.8 442.0 325.9C445.0 326.0 451.4 326.0 455.0 326.1C458.6 326.2 462.7 326.3 464.2 326.3L464.2 326.3L388.6 326.3Z" fill="#E0382A"/>
<path d="M283.2 326.3L388.6 326.3" fill="none"/>
<path d="M283.2 326.3L388.6 326.3C388.9 325.6 390.0 324.3 390.6 322.0C391.2 319.7 391.8 315.5 392.3 312.0C392.8 308.5 393.4 302.8 394.0 300.0C394.6 297.2 395.2 295.6 395.8 294.4C396.4 293.2 396.9 292.8 397.6 292.4C398.3 292.0 399.1 291.7 400.0 291.6C400.9 291.5 402.1 291.4 403.0 291.6C403.9 291.8 404.8 291.9 405.6 292.6C406.4 293.3 407.2 294.6 408.0 296.0C408.8 297.4 409.7 299.6 410.6 301.5C411.5 303.4 412.6 306.0 413.6 307.6C414.6 309.2 416.0 310.5 417.0 311.6C418.0 312.7 419.0 313.4 420.0 314.4C421.0 315.4 422.0 316.9 423.0 318.0C424.0 319.1 425.1 320.4 426.0 321.0C426.9 321.6 427.8 321.5 428.6 321.8C429.4 322.1 430.2 322.2 431.0 322.6C431.8 323.0 432.6 323.9 433.5 324.4C434.4 324.9 435.1 325.3 436.5 325.5C437.9 325.7 439.0 325.8 442.0 325.9C445.0 326.0 451.4 326.0 455.0 326.1C458.6 326.2 462.7 326.3 464.2 326.3L464.2 326.3" fill="none" stroke="#222" stroke-width="0.7" stroke-linejoin="round"/>
<text x="290.6" y="335.2" text-anchor="middle">0.0</text>
<text x="338.5" y="335.2" text-anchor="middle">2.5</text>
<text x="386.4" y="335.2" text-anchor="middle">5.0</text>
<text x="434.4" y="335.2" text-anchor="middle">7.5</text>
<text x="464.8" y="345.0" text-anchor="end">Expression Level</text>
<text x="279.0" y="308.3" text-anchor="end">uninfected</text>
<text x="279.0" y="326.1" text-anchor="end">infected</text>
<text x="519.7" y="235.0">HIV infection and exposure</text>
<rect x="519.7" y="243.0" width="183.9" height="44.0" fill="#fff" stroke="#555" stroke-width="0.8"/>
<rect x="528.0" y="246.4" width="167.6" height="18.2" fill="#E8A326" stroke="#777" stroke-width="0.5"/>
<rect x="528.0" y="266.9" width="167.6" height="18.2" fill="#E8A326" stroke="#777" stroke-width="0.5"/>
<rect x="528.0" y="266.9" width="4.6" height="18.2" fill="#E0382A" stroke="#777" stroke-width="0.5"/>
<line x1="517.4" y1="255.5" x2="519.7" y2="255.5" stroke="#333" stroke-width="0.8"/>
<line x1="517.4" y1="276.0" x2="519.7" y2="276.0" stroke="#333" stroke-width="0.8"/>
<text x="516.6" y="257.9" text-anchor="end">Unexposed</text>
<text x="516.6" y="277.6" text-anchor="end">Exposed</text>
<text x="526.6" y="295.2" text-anchor="middle">0.0</text>
<text x="569.4" y="295.2" text-anchor="middle">0.25</text>
<text x="612.2" y="295.2" text-anchor="middle">0.50</text>
<text x="655.0" y="295.2" text-anchor="middle">0.75</text>
<text x="697.8" y="295.2" text-anchor="middle">1.00</text>
<text x="614.0" y="308.1" text-anchor="middle">frequency</text>
<text x="523.9" y="319.8">HIV infection</text>
<rect x="523.6" y="326.7" width="7.9" height="8.2" fill="#E8A326" stroke="#777" stroke-width="0.5"/>
<text x="535.3" y="333.0">uninfected</text>
<rect x="584.4" y="326.7" width="7.9" height="8.2" fill="#E0382A" stroke="#777" stroke-width="0.5"/>
<text x="595.7" y="333.0">infected</text>
<line x1="37.9" y1="388.0" x2="37.9" y2="566.3" stroke="#222" stroke-width="0.8"/>
<line x1="37.5" y1="566.3" x2="216.2" y2="566.3" stroke="#222" stroke-width="0.8"/>
<line x1="36.1" y1="422.4" x2="37.9" y2="422.4" stroke="#222" stroke-width="0.8"/>
<text x="35.7" y="425.3" text-anchor="end">5</text>
<line x1="36.1" y1="464.9" x2="37.9" y2="464.9" stroke="#222" stroke-width="0.8"/>
<text x="35.7" y="467.8" text-anchor="end">0</text>
<line x1="36.1" y1="507.3" x2="37.9" y2="507.3" stroke="#222" stroke-width="0.8"/>
<text x="35.7" y="510.2" text-anchor="end">−5</text>
<line x1="36.1" y1="549.8" x2="37.9" y2="549.8" stroke="#222" stroke-width="0.8"/>
<text x="35.7" y="552.7" text-anchor="end">−10</text>
<line x1="46.3" y1="566.3" x2="46.3" y2="568.1" stroke="#222" stroke-width="0.8"/>
<text x="46.3" y="574.6" text-anchor="middle">−10</text>
<line x1="83.1" y1="566.3" x2="83.1" y2="568.1" stroke="#222" stroke-width="0.8"/>
<text x="83.1" y="574.6" text-anchor="middle">−5</text>
<line x1="119.9" y1="566.3" x2="119.9" y2="568.1" stroke="#222" stroke-width="0.8"/>
<text x="119.9" y="574.6" text-anchor="middle">0</text>
<line x1="156.7" y1="566.3" x2="156.7" y2="568.1" stroke="#222" stroke-width="0.8"/>
<text x="156.7" y="574.6" text-anchor="middle">5</text>
<line x1="193.5" y1="566.3" x2="193.5" y2="568.1" stroke="#222" stroke-width="0.8"/>
<text x="193.5" y="574.6" text-anchor="middle">10</text>
<text x="128.6" y="583.5" text-anchor="middle">UMAP_1</text>
<text transform="translate(21.3,476.2) rotate(-90)" text-anchor="middle">UMAP_2</text>
<text x="125.7" y="382.8" text-anchor="middle">Unexposed</text>
<line x1="257.3" y1="388.0" x2="257.3" y2="566.3" stroke="#222" stroke-width="0.8"/>
<line x1="256.9" y1="566.3" x2="435.6" y2="566.3" stroke="#222" stroke-width="0.8"/>
<line x1="255.5" y1="422.4" x2="257.3" y2="422.4" stroke="#222" stroke-width="0.8"/>
<text x="255.1" y="425.3" text-anchor="end">5</text>
<line x1="255.5" y1="464.9" x2="257.3" y2="464.9" stroke="#222" stroke-width="0.8"/>
<text x="255.1" y="467.8" text-anchor="end">0</text>
<line x1="255.5" y1="507.3" x2="257.3" y2="507.3" stroke="#222" stroke-width="0.8"/>
<text x="255.1" y="510.2" text-anchor="end">−5</text>
<line x1="255.5" y1="549.8" x2="257.3" y2="549.8" stroke="#222" stroke-width="0.8"/>
<text x="255.1" y="552.7" text-anchor="end">−10</text>
<line x1="266.6" y1="566.3" x2="266.6" y2="568.1" stroke="#222" stroke-width="0.8"/>
<text x="266.6" y="574.6" text-anchor="middle">−10</text>
<line x1="303.4" y1="566.3" x2="303.4" y2="568.1" stroke="#222" stroke-width="0.8"/>
<text x="303.4" y="574.6" text-anchor="middle">−5</text>
<line x1="340.2" y1="566.3" x2="340.2" y2="568.1" stroke="#222" stroke-width="0.8"/>
<text x="340.2" y="574.6" text-anchor="middle">0</text>
<line x1="377.0" y1="566.3" x2="377.0" y2="568.1" stroke="#222" stroke-width="0.8"/>
<text x="377.0" y="574.6" text-anchor="middle">5</text>
<line x1="413.8" y1="566.3" x2="413.8" y2="568.1" stroke="#222" stroke-width="0.8"/>
<text x="413.8" y="574.6" text-anchor="middle">10</text>
<text x="348.9" y="583.5" text-anchor="middle">UMAP_1</text>
<text transform="translate(240.7,476.2) rotate(-90)" text-anchor="middle">UMAP_2</text>
<text x="342.9" y="382.8" text-anchor="middle">Exposed and uninfected</text>
<line x1="477.2" y1="388.0" x2="477.2" y2="566.3" stroke="#222" stroke-width="0.8"/>
<line x1="476.8" y1="566.3" x2="655.5" y2="566.3" stroke="#222" stroke-width="0.8"/>
<line x1="475.4" y1="422.4" x2="477.2" y2="422.4" stroke="#222" stroke-width="0.8"/>
<text x="475.0" y="425.3" text-anchor="end">5</text>
<line x1="475.4" y1="464.9" x2="477.2" y2="464.9" stroke="#222" stroke-width="0.8"/>
<text x="475.0" y="467.8" text-anchor="end">0</text>
<line x1="475.4" y1="507.3" x2="477.2" y2="507.3" stroke="#222" stroke-width="0.8"/>
<text x="475.0" y="510.2" text-anchor="end">−5</text>
<line x1="475.4" y1="549.8" x2="477.2" y2="549.8" stroke="#222" stroke-width="0.8"/>
<text x="475.0" y="552.7" text-anchor="end">−10</text>
<line x1="486.1" y1="566.3" x2="486.1" y2="568.1" stroke="#222" stroke-width="0.8"/>
<text x="486.1" y="574.6" text-anchor="middle">−10</text>
<line x1="522.9" y1="566.3" x2="522.9" y2="568.1" stroke="#222" stroke-width="0.8"/>
<text x="522.9" y="574.6" text-anchor="middle">−5</text>
<line x1="559.7" y1="566.3" x2="559.7" y2="568.1" stroke="#222" stroke-width="0.8"/>
<text x="559.7" y="574.6" text-anchor="middle">0</text>
<line x1="596.5" y1="566.3" x2="596.5" y2="568.1" stroke="#222" stroke-width="0.8"/>
<text x="596.5" y="574.6" text-anchor="middle">5</text>
<line x1="633.3" y1="566.3" x2="633.3" y2="568.1" stroke="#222" stroke-width="0.8"/>
<text x="633.3" y="574.6" text-anchor="middle">10</text>
<text x="568.4" y="583.5" text-anchor="middle">UMAP_1</text>
<text transform="translate(460.6,476.2) rotate(-90)" text-anchor="middle">UMAP_2</text>
<text x="565.4" y="382.8" text-anchor="middle">Infected</text>
<g>
<polygon points="136.7,399.7 139.9,400.3 142.0,403.5 149.4,408.7 155.7,414.0 164.2,419.3 172.7,426.7 174.3,429.9 173.7,435.2 172.7,441.5 175.8,445.7 181.1,447.9 181.5,452.1 179.0,455.3 173.7,456.3 172.2,460.5 172.7,466.9 174.3,473.2 174.8,481.7 174.3,490.1 172.7,494.4 166.3,498.6 158.9,501.8 154.7,503.9 150.5,507.1 147.3,511.3 144.1,515.5 140.6,518.5 137.0,521.5 134.0,520.3 135.5,515.0 136.5,510.0 135.2,502.1 132.9,497.0 132.1,492.3 133.5,483.8 132.0,479.0 134.1,469.7 130.8,471.0 130.1,476.5 128.0,481.5 126.7,479.2 122.6,477.1 115.9,475.8 117.0,471.0 117.5,461.6 117.9,460.2 122.6,457.5 129.4,457.5 136.2,456.8 137.5,452.0 135.5,445.3 134.6,442.6 132.1,437.3 129.9,432.0 130.4,426.7 134.6,422.5 136.7,416.1 136.7,407.7" fill="#d3d3d3" stroke="#d3d3d3" stroke-width="0.8" stroke-linejoin="round"/>
<polygon points="56.9,450.3 60.3,452.0 65.4,447.8 71.3,445.6 78.9,447.8 84.8,452.0 89.1,457.9 91.0,461.2 96.5,462.0 102.0,462.6 104.6,465.5 104.0,469.5 100.6,472.6 100.4,476.5 102.0,480.8 105.3,484.1 111.1,485.8 117.8,486.7 119.5,488.4 117.0,491.8 112.8,495.1 104.3,494.3 97.5,493.5 90.8,496.8 87.4,501.1 86.5,507.8 83.1,508.7 77.2,503.6 72.1,497.7 67.1,491.8 60.3,487.5 53.5,484.1 48.5,479.1 46.4,472.3 46.4,466.4 48.5,460.5 51.8,455.4 56.1,452.8" fill="#d3d3d3" stroke="#d3d3d3" stroke-width="0.8" stroke-linejoin="round"/>
<polygon points="108.4,438.5 115.9,434.5 121.3,436.5 122.4,441.3 121.0,446.5 112.5,449.0 110.4,441.3" fill="#d3d3d3" stroke="#d3d3d3" stroke-width="0.8" stroke-linejoin="round"/>
<polygon points="88.5,456.6 96.0,454.0 102.3,452.1 109.1,449.4 117.2,446.7 125.3,442.6 131.0,438.3 133.0,443.5 129.4,444.6 122.6,447.8 115.9,451.0 109.1,454.3 103.7,457.6 96.9,460.4 90.1,461.8" fill="#d3d3d3" stroke="#d3d3d3" stroke-width="0.8" stroke-linejoin="round"/>
<polygon points="98.0,501.5 108.5,504.0 106.2,515.8 103.0,510.0" fill="#d3d3d3" stroke="#d3d3d3" stroke-width="0.8" stroke-linejoin="round"/>
<polygon points="92.5,514.0 96.5,515.0 97.5,520.0 95.0,526.0 91.0,526.5 90.5,520.0" fill="#d3d3d3" stroke="#d3d3d3" stroke-width="0.8" stroke-linejoin="round"/>
<polygon points="127.2,524.5 131.0,522.5 135.6,521.5 135.8,528.0 134.0,533.8 130.0,534.2 127.6,530.0" fill="#d3d3d3" stroke="#d3d3d3" stroke-width="0.8" stroke-linejoin="round"/>
<polygon points="144.0,537.0 148.0,536.5 150.4,542.0 151.2,549.0 148.6,553.2 145.4,551.0 143.4,545.0" fill="#d3d3d3" stroke="#d3d3d3" stroke-width="0.8" stroke-linejoin="round"/>
<polygon points="116.5,482.0 122.0,481.0 128.0,482.5 127.0,486.0 119.0,486.0" fill="#d3d3d3" stroke="#d3d3d3" stroke-width="0.8" stroke-linejoin="round"/>
<path d="M94.1 461.5h0M126.2 453.9h0M115.7 456.2h0M127.8 452.7h0M105.3 471.0h0M131.5 448.3h0M114.3 452.1h0M116.2 457.2h0M114.4 462.0h0M128.4 446.4h0M103.9 467.1h0M112.7 459.0h0M120.1 456.2h0M107.4 476.0h0M105.8 468.1h0M132.6 448.9h0M101.9 458.5h0M99.2 463.9h0M109.9 484.3h0M119.5 479.0h0M122.1 450.9h0M92.9 465.3h0M96.6 466.9h0M102.1 461.9h0M92.7 462.3h0M102.4 482.0h0M101.6 481.2h0M106.5 472.3h0M135.0 447.7h0M132.4 450.0h0M131.3 449.5h0M131.4 453.1h0M112.7 466.8h0M97.4 459.9h0M129.1 448.2h0M116.0 460.6h0M101.8 465.1h0M135.4 448.6h0M96.3 470.7h0M111.0 480.7h0M126.7 447.4h0M131.5 452.8h0M104.9 479.8h0M110.4 478.2h0M113.7 458.9h0M115.9 482.7h0M103.0 463.6h0M105.7 465.6h0M111.1 458.2h0M109.1 456.2h0M115.9 451.4h0M111.8 471.0h0M107.7 475.1h0M109.4 475.8h0M111.1 476.5h0M113.8 478.5h0M106.4 481.9h0M111.1 483.2h0M99.6 480.5h0M95.5 467.0h0M98.9 468.3h0M102.3 469.7h0M129.4 454.1h0M126.7 452.1h0M135.5 449.4h0M130.1 477.1h0M98.6 500.9h0M111.0 501.9h0M114.8 502.0h0M103.0 494.7h0M114.2 498.1h0M115.5 495.3h0M118.7 498.3h0M107.6 497.9h0M94.1 502.6h0M99.1 497.2h0M120.4 495.0h0M107.9 500.2h0M92.0 502.6h0M101.8 501.8h0M98.5 496.1h0M101.6 498.7h0M115.8 496.9h0M94.3 500.9h0M111.6 502.0h0M108.5 497.3h0M93.6 504.8h0M111.1 501.0h0M120.6 496.6h0M105.8 494.9h0M98.8 494.4h0M107.0 503.3h0M130.8 456.2h0M126.5 452.8h0M133.0 455.6h0M118.3 452.9h0M133.6 453.7h0M124.4 457.3h0M133.4 454.3h0M124.3 455.1h0M117.5 459.0h0M119.9 452.8h0M92.1 509.4h0M91.2 512.8h0M115.2 528.8h0M119.4 527.6h0M124.3 528.2h0M115.4 536.7h0M143.1 523.4h0M206.2 444.3h0M57.3 450.2h0M139.1 400.0h0M141.5 403.1h0M144.7 403.6h0M145.2 404.1h0M146.5 406.7h0M147.3 406.6h0M150.4 408.9h0M151.3 409.0h0M152.7 410.2h0M153.9 410.6h0M156.8 414.0h0M159.2 415.7h0M159.8 415.8h0M160.9 417.2h0M163.9 418.9h0M166.9 421.7h0M169.2 422.5h0M169.0 423.4h0M171.1 424.8h0M170.5 426.8h0M172.9 426.2h0M173.4 428.2h0M175.5 429.7h0M173.5 432.3h0M173.3 435.4h0M174.7 435.7h0M173.2 437.6h0M173.3 439.4h0M172.7 442.3h0M173.7 443.5h0M175.8 445.4h0M179.7 447.4h0M181.9 449.5h0M181.1 452.8h0M179.0 456.6h0M177.8 455.5h0M174.7 454.7h0M174.0 455.9h0M174.1 458.6h0M172.3 460.7h0M171.4 463.9h0M171.1 465.3h0M173.0 467.0h0M173.3 468.4h0M173.2 470.5h0M174.4 473.6h0M173.6 474.7h0M174.4 475.3h0M175.0 478.4h0M174.8 480.9h0M174.3 481.2h0M174.3 481.8h0M173.5 486.7h0M174.9 486.8h0M175.1 489.8h0M173.4 492.6h0M173.7 493.5h0M172.2 495.0h0M172.6 495.5h0M169.8 496.2h0M167.5 496.4h0M168.4 497.6h0M165.6 498.0h0M164.8 499.1h0M163.5 499.5h0M162.1 501.0h0M160.0 502.1h0M158.3 502.7h0M159.1 502.1h0M155.7 503.9h0M153.8 504.9h0M153.0 505.0h0M150.9 507.1h0M149.2 508.4h0M147.4 512.3h0M144.6 514.0h0M142.7 515.7h0M142.4 516.6h0M143.2 517.1h0M140.6 518.5h0M140.2 518.4h0M137.9 520.6h0M137.5 521.2h0M136.4 516.0h0M136.4 513.3h0M135.9 511.8h0M136.0 509.1h0M135.2 508.1h0M135.6 507.0h0M135.8 504.6h0M135.3 504.6h0M135.0 501.9h0M133.8 497.8h0M132.7 497.6h0M131.8 495.3h0M132.1 493.6h0M131.6 491.6h0M132.0 490.4h0M132.7 485.5h0M132.9 486.0h0M133.3 484.4h0M132.4 482.3h0M132.2 480.1h0M131.7 478.6h0M134.6 477.2h0M134.5 474.4h0M132.9 472.1h0M133.8 473.1h0M134.1 470.5h0M132.4 470.6h0M131.0 471.1h0M131.3 472.8h0M128.6 474.0h0M129.5 477.4h0M128.6 479.1h0M127.1 479.9h0M127.9 480.8h0M126.3 479.5h0M125.3 478.9h0M123.9 476.6h0M120.2 475.5h0M119.5 476.3h0M116.0 471.4h0M116.0 466.8h0M117.2 466.5h0M117.2 462.7h0M116.1 461.8h0M117.3 460.5h0M121.1 458.3h0M122.7 456.7h0M124.2 457.9h0M125.9 458.6h0M126.7 455.9h0M129.9 455.7h0M132.3 457.8h0M134.8 455.5h0M135.9 456.3h0M137.0 456.1h0M138.8 453.8h0M138.2 450.7h0M137.2 449.7h0M135.5 445.5h0M133.6 443.0h0M134.0 442.1h0M132.6 438.8h0M132.5 438.5h0M132.2 435.6h0M129.8 433.4h0M130.4 431.7h0M130.5 430.6h0M130.6 428.0h0M130.9 426.2h0M131.8 426.1h0M134.4 424.5h0M135.5 421.5h0M135.6 419.9h0M136.3 417.9h0M136.4 418.0h0M137.3 415.5h0M136.2 412.5h0M136.7 411.1h0M135.4 408.8h0M137.8 407.1h0M137.0 404.5h0M136.0 403.5h0M136.4 401.0h0M59.1 451.4h0M60.0 452.1h0M61.3 452.2h0M63.3 451.1h0M63.9 450.4h0M64.6 448.4h0M65.4 447.3h0M68.2 446.3h0M72.9 445.4h0M74.6 447.6h0M75.5 446.9h0M76.8 448.0h0M79.6 450.2h0M81.9 448.6h0M83.3 451.3h0M84.8 450.5h0M85.1 455.1h0M87.4 457.0h0M88.8 457.6h0M90.4 460.2h0M90.6 462.1h0M93.2 462.2h0M94.5 462.3h0M96.4 461.8h0M99.7 462.7h0M100.2 462.2h0M101.9 463.8h0M103.5 464.2h0M104.0 465.8h0M103.7 468.2h0M104.5 470.1h0M101.4 470.0h0M99.8 473.5h0M100.5 474.2h0M99.2 476.4h0M100.3 476.8h0M101.2 478.8h0M102.1 480.8h0M101.1 481.9h0M105.8 484.6h0M106.7 484.4h0M112.7 487.2h0M114.8 486.1h0M115.8 486.9h0M118.7 487.1h0M119.5 488.7h0M119.4 490.9h0M117.3 491.6h0M115.8 492.1h0M114.5 493.7h0M111.0 495.6h0M108.9 494.2h0M106.9 493.5h0M105.7 495.5h0M104.9 493.9h0M102.6 493.5h0M100.4 493.4h0M97.7 494.4h0M97.5 494.2h0M93.2 495.5h0M91.9 495.6h0M88.5 498.2h0M87.8 500.9h0M86.8 502.8h0M86.6 504.2h0M85.6 507.4h0M85.7 507.8h0M84.4 508.8h0M82.3 508.4h0M81.0 508.0h0M81.5 507.4h0M79.8 505.3h0M78.1 505.6h0M74.7 501.7h0M75.9 501.2h0M74.3 500.2h0M72.6 498.7h0M72.7 498.6h0M71.3 494.7h0M67.5 492.9h0M66.9 490.7h0M65.9 491.2h0M64.5 489.8h0M64.4 490.8h0M60.4 487.7h0M60.0 486.9h0M58.5 486.9h0M57.2 485.4h0M53.6 484.1h0M51.3 480.3h0M49.5 479.4h0M46.9 478.7h0M48.0 477.1h0M46.6 475.7h0M45.6 472.0h0M45.8 470.0h0M46.8 467.9h0M46.1 468.5h0M46.3 465.2h0M47.9 462.5h0M48.1 460.6h0M49.1 458.2h0M50.6 456.7h0M51.9 455.9h0M53.9 455.6h0M54.5 454.8h0M55.7 454.0h0M108.9 437.2h0M110.8 437.4h0M113.4 435.6h0M115.0 434.8h0M116.2 435.3h0M119.2 436.2h0M120.2 436.6h0M120.9 438.2h0M122.6 440.8h0M122.0 445.6h0M120.0 446.3h0M118.9 446.4h0M117.5 446.9h0M116.9 446.1h0M113.8 448.7h0M111.3 449.2h0M112.5 446.2h0M111.5 445.5h0M110.6 444.1h0M111.2 440.1h0M110.3 440.9h0M89.5 457.6h0M90.0 456.8h0M91.7 456.1h0M93.0 456.2h0M93.3 453.6h0M95.8 455.0h0M98.1 453.5h0M100.0 451.1h0M101.9 452.7h0M104.4 450.5h0M105.1 449.7h0M107.8 449.3h0M109.8 450.1h0M110.2 449.5h0M112.4 448.6h0M114.2 447.3h0M116.2 448.0h0M117.7 447.9h0M118.8 446.2h0M120.9 445.9h0M121.2 445.0h0M124.9 442.8h0M124.4 442.8h0M127.2 441.4h0M129.2 440.4h0M129.5 439.4h0M131.2 437.8h0M131.2 440.1h0M133.3 442.2h0M132.1 443.4h0M131.6 444.7h0M129.0 443.9h0M128.4 443.8h0M127.0 446.1h0M125.0 445.8h0M124.1 447.8h0M122.6 446.0h0M121.5 449.0h0M115.5 451.7h0M111.5 453.1h0M112.8 452.2h0M109.3 453.5h0M109.3 454.5h0M104.3 456.8h0M104.7 457.3h0M101.8 458.0h0M99.2 460.5h0M98.0 460.3h0M95.0 460.1h0M93.5 460.6h0M93.0 459.5h0M88.4 460.3h0M90.1 459.4h0M89.2 458.1h0M97.7 502.7h0M98.7 501.8h0M101.9 502.2h0M104.4 503.0h0M105.9 503.3h0M107.4 503.2h0M108.6 504.2h0M107.8 505.3h0M106.8 506.9h0M107.8 509.8h0M107.4 509.3h0M106.3 512.1h0M105.4 514.6h0M106.1 515.9h0M105.0 512.4h0M102.2 508.4h0M101.5 506.1h0M100.2 506.1h0M99.0 502.1h0M94.0 513.4h0M93.6 513.3h0M96.0 516.1h0M96.9 515.6h0M98.1 519.1h0M96.3 522.7h0M96.6 523.9h0M95.6 524.4h0M92.8 526.3h0M89.3 526.4h0M91.8 525.9h0M89.2 521.5h0M89.8 520.2h0M90.9 519.2h0M90.3 517.3h0M126.3 525.6h0M131.6 523.7h0M131.7 520.8h0M133.8 522.7h0M134.7 521.5h0M135.6 522.1h0M135.9 524.4h0M135.7 526.8h0M135.4 531.0h0M134.6 532.9h0M131.7 534.5h0M128.6 533.6h0M129.6 532.7h0M128.0 532.2h0M128.5 530.3h0M127.4 528.5h0M127.3 526.8h0M143.3 536.7h0M146.4 537.1h0M147.6 536.8h0M148.1 540.8h0M150.3 541.3h0M151.1 541.0h0M151.3 544.5h0M150.5 546.2h0M150.1 547.4h0M150.2 550.3h0M148.5 551.4h0M149.6 552.8h0M148.7 551.9h0M146.1 550.5h0M145.2 549.5h0M143.1 549.5h0M142.6 544.5h0M144.3 541.5h0M143.0 542.2h0M144.0 540.6h0M144.3 539.5h0M118.9 481.7h0M120.4 481.6h0M122.2 480.0h0M123.8 481.5h0M125.0 481.7h0M126.2 481.7h0M128.1 482.2h0M128.8 484.7h0M126.7 486.4h0M123.2 485.8h0M122.0 486.5h0M121.1 484.9h0M118.1 487.4h0M118.0 484.6h0M116.9 483.5h0M108.3 521.5h0M108.8 522.8h0M109.2 523.6h0M110.2 525.1h0M110.1 525.4h0M110.3 525.4h0M110.7 526.9h0M110.6 527.8h0M111.3 529.0h0M111.6 529.6h0M97.8 535.1h0M99.0 535.3h0M100.2 536.2h0M100.6 537.3h0M101.0 537.7h0M100.9 538.3h0M102.6 537.3h0M104.0 535.4h0M104.7 535.5h0M105.6 533.9h0M105.7 533.8h0M106.6 532.3h0M107.0 531.8h0M106.7 530.7h0M99.8 543.8h0M100.4 544.1h0M101.1 542.3h0M101.9 541.2h0M113.0 540.8h0M112.9 542.1h0M114.1 543.7h0M114.7 544.6h0M114.7 545.9h0M114.3 546.4h0M115.1 546.9h0M116.0 548.8h0M116.3 549.3h0M115.5 518.1h0M116.6 518.3h0M117.0 519.1h0M117.7 520.0h0M118.7 520.6h0M120.6 521.7h0M120.8 522.1h0M120.8 521.8h0M122.3 523.0h0M123.8 523.4h0M123.8 523.9h0M125.4 524.5h0M126.6 525.4h0M127.3 526.1h0M132.3 532.7h0M135.0 533.2h0M135.3 534.6h0M136.7 535.0h0M136.3 535.4h0M137.6 535.3h0M137.6 536.0h0M137.7 535.5h0M139.2 536.3h0M140.7 539.1h0M140.2 539.3h0M141.7 540.0h0M142.2 540.9h0M142.4 541.2h0M142.5 542.5h0M144.8 543.6h0M144.7 545.0h0M145.1 545.7h0M147.3 523.9h0M147.4 522.9h0M149.2 522.3h0M150.2 521.1h0M149.4 521.4h0M150.4 521.2h0M151.7 519.9h0M152.6 519.2h0M152.5 518.5h0M87.7 449.1h0M88.7 448.7h0M89.4 447.9h0M90.7 447.8h0M90.8 447.0h0M91.6 447.4h0M92.6 446.6h0M93.6 445.9h0M94.5 445.4h0M95.3 445.0h0M122.5 451.9h0M124.1 451.5h0M125.4 451.3h0M126.1 450.8h0M127.7 450.4h0M128.5 450.4h0M129.9 450.0h0M130.8 450.2h0M132.1 449.8h0M132.2 449.6h0M133.0 450.6h0M134.2 451.1h0M135.6 451.0h0M136.1 451.9h0M137.7 452.0h0" stroke="#d3d3d3" stroke-width="2.6" stroke-linecap="round" fill="none"/>
</g>
<g>
<polygon points="357.0,399.7 360.2,400.3 362.3,403.5 369.7,408.7 376.0,414.0 384.5,419.3 393.0,426.7 394.6,429.9 394.0,435.2 393.0,441.5 396.1,445.7 401.4,447.9 401.8,452.1 399.3,455.3 394.0,456.3 392.5,460.5 393.0,466.9 394.6,473.2 395.1,481.7 394.6,490.1 393.0,494.4 386.6,498.6 379.2,501.8 375.0,503.9 370.8,507.1 367.6,511.3 364.4,515.5 360.9,518.5 357.3,521.5 354.3,520.3 355.8,515.0 356.8,510.0 355.5,502.1 353.2,497.0 352.4,492.3 353.8,483.8 352.3,479.0 354.4,469.7 351.1,471.0 350.4,476.5 348.3,481.5 347.0,479.2 342.9,477.1 336.2,475.8 337.3,471.0 337.8,461.6 338.2,460.2 342.9,457.5 349.7,457.5 356.5,456.8 357.8,452.0 355.8,445.3 354.9,442.6 352.4,437.3 350.2,432.0 350.7,426.7 354.9,422.5 357.0,416.1 357.0,407.7" fill="#d3d3d3" stroke="#d3d3d3" stroke-width="0.8" stroke-linejoin="round"/>
<polygon points="277.2,450.3 280.6,452.0 285.7,447.8 291.6,445.6 299.2,447.8 305.1,452.0 309.4,457.9 311.3,461.2 316.8,462.0 322.3,462.6 324.9,465.5 324.3,469.5 320.9,472.6 320.7,476.5 322.3,480.8 325.6,484.1 331.4,485.8 338.1,486.7 339.8,488.4 337.3,491.8 333.1,495.1 324.6,494.3 317.8,493.5 311.1,496.8 307.7,501.1 306.8,507.8 303.4,508.7 297.5,503.6 292.4,497.7 287.4,491.8 280.6,487.5 273.8,484.1 268.8,479.1 266.7,472.3 266.7,466.4 268.8,460.5 272.1,455.4 276.4,452.8" fill="#d3d3d3" stroke="#d3d3d3" stroke-width="0.8" stroke-linejoin="round"/>
<polygon points="328.7,438.5 336.2,434.5 341.6,436.5 342.7,441.3 341.3,446.5 332.8,449.0 330.7,441.3" fill="#d3d3d3" stroke="#d3d3d3" stroke-width="0.8" stroke-linejoin="round"/>
<polygon points="308.8,456.6 316.3,454.0 322.6,452.1 329.4,449.4 337.5,446.7 345.6,442.6 351.3,438.3 353.3,443.5 349.7,444.6 342.9,447.8 336.2,451.0 329.4,454.3 324.0,457.6 317.2,460.4 310.4,461.8" fill="#d3d3d3" stroke="#d3d3d3" stroke-width="0.8" stroke-linejoin="round"/>
<polygon points="318.3,501.5 328.8,504.0 326.5,515.8 323.3,510.0" fill="#d3d3d3" stroke="#d3d3d3" stroke-width="0.8" stroke-linejoin="round"/>
<polygon points="312.8,514.0 316.8,515.0 317.8,520.0 315.3,526.0 311.3,526.5 310.8,520.0" fill="#d3d3d3" stroke="#d3d3d3" stroke-width="0.8" stroke-linejoin="round"/>
<polygon points="347.5,524.5 351.3,522.5 355.9,521.5 356.1,528.0 354.3,533.8 350.3,534.2 347.9,530.0" fill="#d3d3d3" stroke="#d3d3d3" stroke-width="0.8" stroke-linejoin="round"/>
<polygon points="364.3,537.0 368.3,536.5 370.7,542.0 371.5,549.0 368.9,553.2 365.7,551.0 363.7,545.0" fill="#d3d3d3" stroke="#d3d3d3" stroke-width="0.8" stroke-linejoin="round"/>
<polygon points="336.8,482.0 342.3,481.0 348.3,482.5 347.3,486.0 339.3,486.0" fill="#d3d3d3" stroke="#d3d3d3" stroke-width="0.8" stroke-linejoin="round"/>
<polygon points="357.0,399.7 360.2,400.3 362.3,403.5 369.7,408.7 376.0,414.0 384.5,419.3 393.0,426.7 394.6,429.9 394.0,435.2 393.0,441.5 396.1,445.7 401.4,447.9 401.8,452.1 399.3,455.3 394.0,456.3 392.5,460.5 393.0,466.9 394.6,473.2 395.1,481.7 394.6,490.1 393.0,494.4 386.6,498.6 379.2,501.8 375.0,503.9 370.8,507.1 367.6,511.3 364.4,515.5 360.9,518.5 357.3,521.5 354.3,520.3 355.8,515.0 356.8,510.0 355.5,502.1 353.2,497.0 352.4,492.3 353.8,483.8 352.3,479.0 354.4,469.7 351.1,471.0 350.4,476.5 348.3,481.5 347.0,479.2 342.9,477.1 336.2,475.8 337.3,471.0 337.8,461.6 338.2,460.2 342.9,457.5 349.7,457.5 356.5,456.8 357.8,452.0 355.8,445.3 354.9,442.6 352.4,437.3 350.2,432.0 350.7,426.7 354.9,422.5 357.0,416.1 357.0,407.7" fill="#d9d95e" stroke="#d9d95e" stroke-width="0.3" stroke-linejoin="round"/>
<polygon points="277.2,450.3 280.6,452.0 285.7,447.8 291.6,445.6 299.2,447.8 305.1,452.0 309.4,457.9 311.3,461.2 316.8,462.0 322.3,462.6 324.9,465.5 324.3,469.5 320.9,472.6 320.7,476.5 322.3,480.8 325.6,484.1 331.4,485.8 338.1,486.7 339.8,488.4 337.3,491.8 333.1,495.1 324.6,494.3 317.8,493.5 311.1,496.8 307.7,501.1 306.8,507.8 303.4,508.7 297.5,503.6 292.4,497.7 287.4,491.8 280.6,487.5 273.8,484.1 268.8,479.1 266.7,472.3 266.7,466.4 268.8,460.5 272.1,455.4 276.4,452.8" fill="#d9d95e" stroke="#d9d95e" stroke-width="0.3" stroke-linejoin="round"/>
<polygon points="328.7,438.5 336.2,434.5 341.6,436.5 342.7,441.3 341.3,446.5 332.8,449.0 330.7,441.3" fill="#d9d95e" stroke="#d9d95e" stroke-width="0.3" stroke-linejoin="round"/>
<polygon points="308.8,456.6 316.3,454.0 322.6,452.1 329.4,449.4 337.5,446.7 345.6,442.6 351.3,438.3 353.3,443.5 349.7,444.6 342.9,447.8 336.2,451.0 329.4,454.3 324.0,457.6 317.2,460.4 310.4,461.8" fill="#d9d95e" stroke="#d9d95e" stroke-width="0.3" stroke-linejoin="round"/>
<polygon points="318.3,501.5 328.8,504.0 326.5,515.8 323.3,510.0" fill="#d9d95e" stroke="#d9d95e" stroke-width="0.3" stroke-linejoin="round"/>
<polygon points="312.8,514.0 316.8,515.0 317.8,520.0 315.3,526.0 311.3,526.5 310.8,520.0" fill="#d9d95e" stroke="#d9d95e" stroke-width="0.3" stroke-linejoin="round"/>
<polygon points="347.5,524.5 351.3,522.5 355.9,521.5 356.1,528.0 354.3,533.8 350.3,534.2 347.9,530.0" fill="#d9d95e" stroke="#d9d95e" stroke-width="0.3" stroke-linejoin="round"/>
<polygon points="364.3,537.0 368.3,536.5 370.7,542.0 371.5,549.0 368.9,553.2 365.7,551.0 363.7,545.0" fill="#d9d95e" stroke="#d9d95e" stroke-width="0.3" stroke-linejoin="round"/>
<polygon points="336.8,482.0 342.3,481.0 348.3,482.5 347.3,486.0 339.3,486.0" fill="#d9d95e" stroke="#d9d95e" stroke-width="0.3" stroke-linejoin="round"/>
<path d="M368.8 551.4h0M392.9 495.5h0M280.3 452.1h0M368.4 540.8h0M367.6 406.6h0M339.2 481.7h0M329.6 454.5h0M365.5 404.1h0M352.5 435.6h0M318.3 460.3h0M268.4 460.6h0M331.3 495.6h0M394.6 481.8h0M393.7 428.2h0M300.1 505.3h0M350.1 433.4h0M343.0 456.7h0M362.9 544.5h0M351.9 491.6h0M346.5 481.7h0M321.4 481.9h0M348.9 479.1h0M393.6 439.4h0M390.8 426.8h0M355.9 419.9h0M284.8 489.8h0M354.7 424.5h0M325.7 514.6h0M266.4 468.5h0M325.0 457.3h0M313.3 456.2h0M356.2 456.3h0M353.9 443.0h0M309.8 457.6h0M276.0 454.0h0M313.8 460.6h0M358.5 450.7h0M291.6 494.7h0M370.8 546.2h0M348.2 480.8h0M400.0 447.4h0M321.5 478.8h0M354.4 470.5h0M329.2 494.2h0M347.0 486.4h0M353.0 485.5h0M398.1 455.5h0M273.9 484.1h0M333.7 435.6h0M306.9 504.2h0M353.2 486.0h0M324.6 456.8h0M266.6 465.2h0M337.2 483.5h0M280.7 487.7h0M387.2 421.7h0M360.9 518.5h0M319.3 502.1h0M313.1 526.3h0M345.3 481.7h0M322.5 508.4h0M310.3 456.8h0M339.2 446.4h0M341.2 445.9h0M385.9 498.0h0M392.6 460.7h0M328.9 504.2h0M316.6 522.7h0M349.8 477.4h0M402.2 449.5h0M324.0 468.2h0M292.9 498.7h0M326.6 512.1h0M351.6 472.8h0M352.8 438.5h0M352.7 470.6h0M349.1 484.7h0M346.6 479.5h0M385.1 499.1h0M266.1 470.0h0M352.4 443.4h0M365.5 549.5h0M347.3 446.1h0M350.2 455.7h0M364.6 539.5h0M324.7 450.5h0M354.8 474.4h0" stroke="#d3d3d3" stroke-width="2.6" stroke-linecap="round" fill="none"/>
<path d="M320.5 506.1h0M316.1 455.0h0M352.0 520.8h0M322.1 458.0h0M310.6 517.3h0M352.5 480.1h0M352.6 457.8h0M318.4 519.1h0M320.5 462.2h0M326.4 515.9h0M281.6 452.2h0M389.3 423.4h0M395.0 435.7h0M388.7 497.6h0M356.0 526.8h0M395.3 478.4h0M331.1 437.4h0M299.9 450.2h0M359.1 453.8h0M390.1 496.2h0M330.5 449.5h0M379.4 502.1h0M313.6 453.6h0M302.2 448.6h0M316.7 461.8h0M357.3 456.1h0M395.2 486.8h0M277.5 485.4h0M338.3 484.6h0M315.3 460.1h0M312.2 495.6h0M334.1 448.7h0M336.5 448.0h0M382.4 501.0h0M309.6 526.4h0M394.3 455.9h0M380.1 415.8h0M394.4 458.6h0M307.1 502.8h0M325.2 493.9h0M348.3 532.2h0M316.9 523.9h0M319.0 501.8h0M269.8 479.4h0M317.8 494.2h0M352.0 478.6h0M352.9 438.8h0M370.6 541.3h0M352.4 493.6h0M340.7 481.6h0M366.4 550.5h0M333.1 452.2h0M352.3 490.4h0M319.5 460.5h0M344.2 476.6h0M294.9 447.6h0M313.3 459.5h0M339.0 487.1h0M395.1 480.9h0M336.3 466.8h0M325.4 449.7h0M367.9 536.8h0M337.2 446.1h0M399.3 456.6h0M381.2 417.2h0M327.2 493.5h0M267.2 478.7h0M340.5 475.5h0M377.1 414.0h0M321.8 506.1h0M394.0 493.5h0M268.2 462.5h0M348.9 474.0h0M332.8 446.2h0M322.2 452.7h0M305.4 455.1h0M371.6 409.0h0M326.2 503.3h0M357.3 404.5h0M334.5 447.3h0M330.1 450.1h0M362.7 516.6h0M366.7 537.1h0M284.2 450.4h0M310.9 462.1h0M318.0 494.4h0M356.7 418.0h0M393.6 468.4h0M342.3 445.6h0M266.9 475.7h0M393.2 426.2h0M302.6 508.4h0M274.2 455.6h0M336.3 471.4h0M265.9 472.0h0M394.6 481.2h0M393.3 467.0h0M316.3 516.1h0M363.6 536.7h0M347.0 455.9h0M355.9 522.1h0M308.1 500.9h0M347.4 479.9h0M326.0 495.5h0M393.5 470.5h0M336.1 486.9h0M311.2 519.2h0M351.5 440.1h0M355.9 507.0h0M356.3 403.5h0M326.1 484.6h0M356.1 504.6h0M301.3 508.0h0M285.7 447.3h0M356.7 401.0h0M324.7 503.0h0M369.5 508.4h0M345.6 478.9h0M374.1 504.9h0M313.5 495.5h0M356.7 516.0h0M349.9 532.7h0M351.9 444.7h0M293.0 498.6h0M331.5 440.1h0M354.9 532.9h0M355.0 521.5h0M394.7 473.6h0M279.4 451.4h0M355.5 508.1h0M268.3 477.1h0M310.4 459.4h0M330.9 444.1h0M321.7 470.0h0M341.2 438.2h0M337.5 466.5h0M337.6 491.6h0M347.6 526.8h0M340.3 446.3h0M303.6 451.3h0M371.6 544.5h0M338.4 487.4h0M363.5 517.1h0M363.4 549.5h0M373.0 410.2h0M314.3 513.4h0M348.4 482.2h0M297.1 448.0h0M271.6 480.3h0M320.1 473.5h0M322.4 480.8h0M320.6 476.8h0" stroke="#e2e288" stroke-width="2.5" stroke-linecap="round" fill="none"/>
<path d="M337.8 446.9h0M329.6 453.5h0M331.8 445.5h0M280.3 486.9h0M341.5 445.0h0M319.5 476.4h0M318.0 502.7h0M376.0 503.9h0M341.8 449.0h0M395.8 429.7h0M347.5 441.4h0M348.7 443.8h0M351.9 523.7h0M369.9 552.8h0M295.0 501.7h0M354.1 522.7h0M355.3 501.9h0M323.8 464.2h0M364.3 540.6h0M338.0 447.9h0M308.7 460.3h0M364.6 541.5h0M350.8 430.6h0M357.5 449.7h0M287.8 492.9h0M325.3 512.4h0M284.7 490.8h0M272.2 455.9h0M269.4 458.2h0M336.5 435.3h0M306.0 507.8h0M371.2 507.1h0M350.9 428.0h0M331.6 449.2h0M396.1 445.4h0M353.6 442.2h0M363.3 542.2h0M320.7 493.4h0M356.3 509.1h0M395.4 489.8h0M339.8 488.7h0M348.9 533.6h0M380.3 502.1h0M348.8 530.3h0M284.9 448.4h0M278.8 486.9h0M369.0 551.9h0M393.0 442.3h0M317.2 515.6h0M334.8 493.7h0M304.7 508.8h0M349.3 443.9h0M344.4 447.8h0M339.8 476.3h0M389.5 422.5h0M333.0 487.2h0M329.2 437.2h0M391.4 465.3h0M393.6 435.4h0M357.8 521.2h0M286.2 491.2h0M327.7 509.3h0M363.0 515.7h0M391.7 463.9h0M322.2 502.2h0M327.1 506.9h0M358.1 407.1h0M356.5 412.5h0M394.7 475.3h0M340.5 436.6h0M355.8 445.5h0M345.2 442.8h0M364.9 514.0h0M310.7 460.2h0M339.1 446.2h0M345.3 445.8h0M293.2 445.4h0M353.2 472.1h0M393.9 474.7h0M322.9 493.5h0M391.4 424.8h0M351.2 426.2h0M314.8 462.3h0M320.3 451.1h0M393.7 492.6h0M342.9 446.0h0M341.4 458.3h0M270.9 456.7h0M328.1 509.8h0M267.1 467.9h0M295.8 446.9h0M301.8 507.4h0M337.5 462.7h0M387.8 496.4h0M312.1 525.9h0M349.8 439.4h0M354.1 497.8h0M393.8 432.3h0M305.9 507.4h0M366.8 406.7h0M312.0 456.1h0M322.2 463.8h0M313.5 462.2h0M336.1 492.1h0M342.9 440.8h0M374.2 410.6h0M327.0 484.4h0M341.4 484.9h0M370.5 550.3h0M346.2 458.6h0M394.0 443.5h0M355.6 504.6h0M294.6 500.2h0M328.1 505.3h0M352.1 495.3h0M355.7 408.8h0M287.2 490.7h0M356.6 417.9h0M305.1 450.5h0M357.6 415.5h0M313.9 513.3h0M288.5 446.3h0M346.6 525.6h0M328.1 449.3h0M361.8 403.1h0M318.4 453.5h0M332.7 448.6h0M355.8 421.5h0M283.6 451.1h0M401.4 452.8h0M355.1 455.5h0M367.7 512.3h0M356.2 524.4h0M339.7 490.9h0M309.1 457.6h0M379.5 415.7h0M352.1 426.1h0M324.8 470.1h0M353.6 484.4h0M343.5 485.8h0M371.4 541.0h0M354.9 477.2h0M351.5 437.8h0M309.5 458.1h0M335.3 434.8h0M352.7 482.3h0M357.0 411.1h0M350.7 431.7h0M356.2 511.8h0M356.7 513.3h0M342.3 486.5h0M354.1 473.1h0M365.0 403.6h0M359.4 400.0h0M378.6 502.7h0M383.8 499.5h0M308.8 498.2h0M344.1 481.5h0M344.7 442.8h0M373.3 505.0h0M395.0 454.7h0M355.7 531.0h0M358.2 520.6h0M320.8 474.2h0M352.0 534.5h0M353.0 497.6h0M354.3 442.1h0M335.1 486.1h0M351.3 471.1h0M315.9 524.4h0M370.7 408.9h0M342.5 480.0h0M330.6 440.9h0M393.8 486.7h0M339.5 436.2h0M324.3 465.8h0M336.4 461.8h0M296.2 501.2h0M320.0 462.7h0M392.5 495.0h0M360.5 518.4h0M393.5 437.6h0M335.8 451.7h0M337.6 460.5h0M347.7 528.5h0M298.4 505.6h0M384.2 418.9h0M274.8 454.8h0M331.8 453.1h0M309.5 521.5h0M327.7 503.2h0M370.4 547.4h0M307.7 457.0h0M310.1 520.2h0M344.5 457.9h0M349.5 440.4h0" stroke="#d9d95e" stroke-width="2.5" stroke-linecap="round" fill="none"/>
<path d="M330.6 525.4h0M334.6 546.4h0M334.4 543.7h0M320.5 536.2h0M362.8 542.5h0M351.1 450.2h0M358.0 452.0h0M322.2 541.2h0M335.0 545.9h0M322.9 537.3h0M370.5 521.1h0M327.0 530.7h0M369.7 521.4h0M335.0 544.6h0M352.5 449.6h0M309.7 447.9h0M357.9 535.3h0M346.9 525.4h0M345.7 451.3h0M329.1 522.8h0M327.3 531.8h0M326.0 533.8h0M344.1 523.4h0M353.3 450.6h0M321.2 538.3h0" stroke="#d3d3d3" stroke-width="2.6" stroke-linecap="round" fill="none"/>
<path d="M309.0 448.7h0M313.9 445.9h0M341.1 521.8h0M338.0 520.0h0M357.9 536.0h0M350.2 450.0h0M312.9 446.6h0M354.5 451.1h0M355.9 451.0h0M372.9 519.2h0M324.3 535.4h0M341.1 522.1h0M320.1 543.8h0M344.4 451.5h0M336.3 548.8h0M329.5 523.6h0M320.9 537.3h0M344.1 523.9h0M330.4 525.4h0M369.5 522.3h0M321.4 542.3h0M345.7 524.5h0M358.0 535.5h0M319.3 535.3h0M331.9 529.6h0M333.3 540.8h0" stroke="#e2e288" stroke-width="2.5" stroke-linecap="round" fill="none"/>
<path d="M365.0 545.0h0M314.8 445.4h0M365.1 543.6h0M342.6 523.0h0M348.8 450.4h0M355.3 533.2h0M339.0 520.6h0M356.4 451.9h0M321.3 537.7h0M362.7 541.2h0M355.6 534.6h0M330.9 527.8h0M372.0 519.9h0M362.0 540.0h0M352.6 532.7h0M311.9 447.4h0M308.0 449.1h0M311.0 447.8h0M330.5 525.1h0M372.8 518.5h0M318.1 535.1h0M335.4 546.9h0M333.2 542.1h0M352.4 449.8h0M331.0 526.9h0M367.6 523.9h0M346.4 450.8h0M357.0 535.0h0M325.9 533.9h0M365.4 545.7h0M340.9 521.7h0M362.5 540.9h0M367.7 522.9h0M360.5 539.3h0M326.9 532.3h0M325.0 535.5h0M337.3 519.1h0M361.0 539.1h0M311.1 447.0h0M336.6 549.3h0M370.7 521.2h0M356.6 535.4h0M342.8 451.9h0M328.6 521.5h0M336.9 518.3h0M331.6 529.0h0M359.5 536.3h0M335.8 518.1h0M320.7 544.1h0M348.0 450.4h0M315.6 445.0h0M347.6 526.1h0" stroke="#d9d95e" stroke-width="2.5" stroke-linecap="round" fill="none"/>
<path d="M336.2 451.4h0M313.2 465.3h0M346.5 453.9h0M329.7 475.8h0M340.9 496.6h0M313.0 462.3h0M312.3 502.6h0M349.4 448.2h0M331.3 480.7h0M344.6 528.2h0M346.8 452.8h0M336.5 457.2h0M316.6 470.7h0M330.2 484.3h0M328.2 500.2h0M348.7 446.4h0M321.9 481.2h0M336.3 460.6h0M319.1 494.4h0M334.7 462.0h0M350.4 477.1h0M322.1 501.8h0M353.9 453.7h0M312.4 509.4h0M338.6 452.9h0M331.9 502.0h0M351.8 448.3h0M331.4 483.2h0M313.9 504.8h0M318.9 500.9h0M344.6 455.1h0M333.0 466.8h0M352.7 450.0h0M342.4 450.9h0M334.1 478.5h0M321.9 498.7h0M326.1 494.9h0" stroke="#d3d3d3" stroke-width="2.5" stroke-linecap="round" fill="none"/>
<path d="M319.2 468.3h0M314.4 461.5h0M335.7 536.7h0M335.8 495.3h0M351.7 453.1h0M323.3 463.6h0M335.1 502.0h0M340.4 456.2h0M426.5 444.3h0M328.0 475.1h0M326.7 481.9h0M336.1 496.9h0M353.7 454.3h0M322.7 482.0h0M344.7 457.3h0M326.0 465.6h0M331.4 501.0h0M322.1 465.1h0M347.0 452.1h0M335.5 528.8h0M317.7 459.9h0M322.4 461.9h0M318.8 496.1h0M319.4 497.2h0M347.0 447.4h0M332.1 471.0h0M334.5 498.1h0M339.0 498.3h0M314.4 502.6h0M337.8 459.0h0M311.5 512.8h0M334.0 458.9h0M325.2 479.8h0M355.7 448.6h0M351.1 456.2h0M336.2 482.7h0M331.4 458.2h0M319.5 463.9h0M326.8 472.3h0M349.7 454.1h0M340.2 452.8h0M326.1 468.1h0M355.3 447.7h0M331.4 476.5h0M339.8 479.0h0M334.6 452.1h0M339.7 527.6h0M323.3 494.7h0M348.1 452.7h0M331.3 501.9h0M327.7 476.0h0M351.8 452.8h0M322.6 469.7h0M315.8 467.0h0M363.4 523.4h0" stroke="#e2e288" stroke-width="2.5" stroke-linecap="round" fill="none"/>
<path d="M351.6 449.5h0M277.6 450.2h0M340.7 495.0h0M355.8 449.4h0M352.9 448.9h0M333.0 459.0h0M325.6 471.0h0M328.8 497.3h0M327.9 497.9h0M324.2 467.1h0M330.7 478.2h0M314.6 500.9h0M336.0 456.2h0M327.3 503.3h0M322.2 458.5h0M316.9 466.9h0M329.4 456.2h0M353.3 455.6h0M319.9 480.5h0" stroke="#d9d95e" stroke-width="2.5" stroke-linecap="round" fill="none"/>
<path d="M355.2 421.9h0M362.1 406.1h0M358.0 409.8h0M360.8 414.4h0M357.1 402.4h0M358.8 411.9h0M357.0 417.5h0M364.1 407.6h0M358.3 418.7h0M356.6 420.4h0M363.6 407.9h0M363.5 410.7h0M357.4 418.9h0M357.3 410.7h0M362.4 418.2h0M357.6 426.3h0M354.9 426.2h0M360.2 408.2h0M357.4 412.2h0M362.0 404.0h0M359.0 406.3h0M361.8 414.8h0M357.5 414.7h0M360.0 404.2h0M363.4 414.0h0M359.5 412.1h0M362.4 408.5h0M364.7 407.2h0M363.1 411.0h0M358.7 419.2h0M358.1 422.8h0M359.1 425.8h0M356.4 419.4h0M361.3 417.2h0M359.8 424.5h0M361.8 410.5h0M365.2 409.5h0M361.9 403.2h0M364.7 408.4h0M361.4 418.2h0M361.9 412.6h0M364.5 407.6h0M362.7 408.0h0M362.1 413.9h0M357.3 417.4h0M364.8 410.4h0M359.5 419.7h0M360.0 421.0h0M355.7 427.4h0M359.2 412.6h0M356.5 422.2h0M358.2 412.0h0M358.5 422.6h0M362.6 412.2h0M357.8 412.9h0M358.8 402.6h0M357.6 415.6h0M358.6 402.6h0M356.8 425.1h0M357.5 419.4h0M353.0 425.2h0M357.3 409.4h0M358.0 409.9h0M361.1 404.8h0M360.0 405.2h0M354.4 429.5h0M354.9 424.4h0M356.5 425.0h0M360.7 412.6h0M362.1 405.1h0M274.7 454.1h0M281.2 453.9h0M275.7 454.7h0M280.0 454.5h0M279.7 454.2h0M277.6 454.1h0M277.2 455.5h0M276.1 455.2h0M283.5 452.3h0M277.4 454.7h0M278.5 453.5h0M274.7 454.6h0M275.8 453.5h0M279.3 453.2h0M279.0 454.9h0M275.2 453.9h0M358.6 417.2h0M354.3 495.2h0M384.8 431.6h0M390.6 475.9h0M361.7 476.3h0M352.3 431.8h0M393.7 453.1h0M384.7 468.1h0M390.3 459.9h0M374.8 414.0h0M383.5 474.2h0M376.4 426.7h0M366.4 478.7h0M394.7 487.5h0M385.7 431.2h0M385.9 462.5h0M359.3 409.3h0M364.1 475.4h0M378.9 421.0h0M345.3 459.5h0M381.3 454.2h0M368.6 465.0h0M379.7 450.8h0M377.5 477.7h0M386.7 440.7h0M343.0 476.7h0M391.6 470.6h0M361.4 477.2h0M383.7 431.5h0M363.0 439.8h0M383.2 449.7h0M356.0 421.6h0M373.3 435.0h0M343.3 462.0h0M366.8 412.2h0M364.9 432.9h0M364.3 425.2h0M361.2 476.9h0M389.4 464.1h0M365.3 511.5h0M373.9 460.6h0M354.8 490.3h0M386.0 473.4h0M381.8 488.5h0M343.1 470.4h0M285.1 468.1h0M291.3 482.9h0M313.4 476.4h0M287.3 466.7h0M297.4 471.8h0M314.6 493.4h0M329.1 487.3h0M297.5 498.5h0M316.1 467.0h0M320.2 477.5h0M318.7 484.4h0M324.5 494.3h0M305.8 475.8h0M275.4 458.4h0M314.3 469.9h0M314.7 482.3h0M298.5 464.9h0M320.5 469.1h0M310.3 493.4h0M299.2 488.9h0M271.2 462.0h0M300.2 473.3h0M324.8 494.0h0M311.6 490.8h0M271.5 467.1h0M322.2 455.4h0M345.9 446.0h0M349.9 440.2h0M345.4 443.7h0M321.9 457.5h0M318.6 453.9h0M341.3 447.9h0M343.5 445.6h0M331.6 449.3h0M350.9 440.4h0M339.1 449.1h0M313.2 458.6h0M323.4 454.4h0M328.9 453.7h0M389.8 464.6h0M390.3 471.9h0M387.5 476.1h0M390.6 477.2h0M389.2 463.5h0M392.3 477.8h0M391.2 467.7h0M393.9 478.5h0M391.9 468.3h0M393.7 475.5h0M390.7 481.4h0M393.5 471.9h0M392.2 476.1h0M390.5 461.0h0" stroke="#d3d3d3" stroke-width="2.3" stroke-linecap="round" fill="none"/>
<path d="M279.7 475.5h0M290.1 485.0h0M293.8 495.1h0M295.2 499.7h0M321.3 491.5h0M300.2 463.1h0M279.4 471.6h0M285.4 484.7h0M298.7 484.3h0M299.9 463.7h0M303.2 482.3h0M303.5 502.4h0M323.6 464.9h0M291.5 484.2h0M270.0 477.1h0M286.7 478.8h0M270.0 459.7h0M282.9 474.4h0M289.5 461.2h0M279.1 462.6h0M271.5 456.7h0M319.3 476.6h0M267.5 464.8h0M320.0 491.8h0M294.7 481.8h0M287.3 447.9h0M285.7 474.5h0M284.8 468.8h0M327.9 492.6h0M310.0 465.9h0M295.4 465.6h0M309.4 460.0h0M283.4 458.6h0M315.3 482.5h0M287.3 491.7h0M275.4 483.0h0M318.2 491.8h0M302.3 500.6h0M312.7 489.2h0M272.5 457.4h0M300.7 480.0h0M292.0 475.6h0M304.9 498.5h0M288.8 480.9h0M311.0 487.0h0M289.5 463.2h0M301.1 483.5h0M299.3 481.0h0M280.9 452.0h0M303.2 464.2h0M269.0 462.6h0M278.5 470.9h0M292.4 489.5h0M283.4 463.3h0M285.5 475.9h0M302.2 455.0h0M315.5 491.1h0M301.6 479.5h0M303.6 487.4h0M290.9 488.8h0M293.6 484.5h0M311.6 487.9h0M334.4 490.3h0M318.6 490.0h0M283.6 484.4h0M302.7 478.6h0M300.9 504.9h0M299.1 481.3h0M314.4 479.7h0M277.4 476.3h0M311.7 489.7h0M297.9 503.2h0M291.1 494.2h0M305.6 487.7h0M302.8 476.7h0M314.8 481.0h0M290.0 477.1h0M284.3 487.7h0M301.6 466.3h0M285.6 468.6h0M277.6 465.5h0M292.6 461.4h0M288.1 485.3h0M301.7 453.0h0M305.0 462.6h0M274.4 473.3h0M300.7 503.0h0M289.0 450.8h0M297.9 478.5h0M299.8 465.2h0M356.4 494.4h0M370.6 481.7h0M380.3 463.2h0M360.3 417.7h0M380.5 440.8h0M368.5 425.2h0M392.1 458.5h0M355.3 486.6h0M391.1 472.0h0M340.4 463.3h0M368.5 495.2h0M393.0 458.5h0M359.0 441.7h0M370.1 445.1h0M384.7 491.4h0M376.5 457.7h0M383.6 451.8h0M359.1 449.9h0M354.5 494.9h0M368.5 420.5h0M359.7 436.0h0M356.0 473.7h0M369.2 459.1h0M380.8 457.3h0M398.3 453.1h0M377.0 471.5h0M388.0 486.4h0M381.3 439.7h0M359.7 452.8h0M382.2 426.4h0M374.3 478.1h0M376.2 486.2h0M355.0 475.0h0M384.5 438.9h0M367.1 468.1h0M379.2 431.6h0M374.4 472.6h0M368.8 451.1h0M367.1 445.0h0M386.1 469.8h0M370.7 490.9h0M372.1 471.4h0M374.0 413.7h0M359.1 415.4h0M389.7 490.8h0M386.3 446.8h0M381.9 433.0h0M388.0 471.4h0M384.2 452.7h0M374.3 436.5h0M351.3 466.5h0M375.8 460.6h0M378.9 476.2h0M363.0 432.2h0M381.0 446.8h0M359.7 483.3h0M379.2 459.4h0M389.8 439.5h0M359.2 491.2h0M380.8 451.6h0M371.4 504.2h0M389.2 464.6h0M379.8 477.9h0M361.8 414.9h0M368.9 491.6h0M358.9 429.2h0M394.1 482.6h0M353.6 488.7h0M350.6 474.0h0M353.1 459.8h0M341.0 467.9h0M380.5 438.3h0M374.4 463.9h0M388.0 469.9h0M378.1 468.4h0M392.4 485.1h0M360.9 413.6h0M386.4 486.2h0M367.0 432.7h0M360.1 513.7h0M366.6 425.3h0M384.1 446.8h0M367.3 483.0h0M354.1 472.1h0M372.0 451.8h0M358.7 412.7h0M356.9 519.2h0M360.0 501.5h0M358.2 419.9h0M380.8 463.4h0M355.3 430.7h0M365.0 408.8h0M370.5 430.8h0M386.9 432.2h0M394.2 456.2h0M371.7 431.2h0M385.9 444.5h0M394.2 485.9h0M360.5 470.7h0M381.4 483.3h0M388.0 455.8h0M372.4 472.6h0M356.4 480.6h0M390.4 467.7h0M376.9 415.6h0M390.9 478.9h0M393.8 488.1h0M384.1 432.3h0M363.9 446.0h0M361.9 510.8h0M364.8 497.0h0M350.0 470.1h0M388.0 428.1h0M366.3 450.9h0M354.4 441.6h0M369.5 419.3h0M361.9 407.6h0M361.4 467.9h0M372.6 421.2h0M371.6 460.3h0M391.1 477.8h0M357.8 428.8h0M377.5 467.0h0M355.7 457.1h0M362.9 476.1h0M393.8 445.1h0M371.5 468.1h0M380.0 429.4h0M353.3 459.5h0M365.8 428.8h0M341.7 447.0h0M317.5 456.5h0M352.5 443.2h0M340.3 447.6h0M340.6 448.6h0M315.3 460.7h0M339.2 448.4h0M341.1 448.4h0M350.6 440.0h0M336.6 447.2h0" stroke="#e2e288" stroke-width="2.2" stroke-linecap="round" fill="none"/>
<path d="M300.8 480.2h0M329.5 485.4h0M308.9 459.8h0M290.6 479.9h0M306.6 463.6h0M305.7 506.6h0M317.7 462.3h0M316.7 484.4h0M293.7 488.0h0M294.2 494.9h0M295.1 497.6h0M288.4 456.4h0M290.8 453.5h0M297.1 460.8h0M284.6 464.9h0M303.1 453.9h0M282.1 470.7h0M275.4 454.7h0M310.9 464.6h0M315.7 462.9h0M322.2 467.0h0M317.3 493.0h0M318.1 493.1h0M291.7 455.2h0M269.4 463.4h0M289.3 473.4h0M291.5 491.4h0M299.8 486.4h0M304.2 468.3h0M296.5 448.2h0M336.3 491.8h0M273.8 458.4h0M321.4 493.0h0M281.4 454.3h0M288.8 469.9h0M320.4 464.2h0M284.6 458.1h0M298.7 456.4h0M303.1 505.9h0M275.8 459.8h0M323.1 484.1h0M321.6 479.2h0M282.7 466.1h0M302.7 474.4h0M312.8 484.4h0M302.4 502.6h0M319.7 491.0h0M281.1 476.6h0M286.2 458.5h0M296.3 447.1h0M279.7 486.3h0M318.6 468.0h0M314.8 494.9h0M286.2 471.2h0M336.7 488.7h0M307.8 489.1h0M330.2 485.7h0M297.9 470.4h0M313.7 467.3h0M317.5 462.9h0M321.2 480.9h0M322.3 464.1h0M306.7 467.4h0M301.1 463.9h0M271.9 473.1h0M284.1 456.7h0M290.9 453.5h0M297.4 453.2h0M298.1 477.6h0M270.8 479.8h0M279.7 471.3h0M275.3 461.2h0M301.8 466.1h0M301.7 484.4h0M338.0 489.1h0M303.9 496.8h0M303.8 457.8h0M315.7 462.7h0M282.2 470.1h0M304.0 468.8h0M300.1 489.7h0M303.5 471.2h0M309.1 463.0h0M316.6 472.4h0M318.3 467.6h0M302.2 476.7h0M300.3 493.9h0M281.0 455.1h0M280.6 465.6h0M282.0 460.5h0M310.1 490.0h0M305.4 480.6h0M304.4 495.9h0M290.9 448.2h0M313.2 475.9h0M320.2 489.4h0M291.0 491.4h0M305.5 458.1h0M304.6 482.5h0M300.6 460.6h0M301.0 450.6h0M298.8 467.2h0M280.9 469.6h0M311.8 494.4h0M298.0 457.3h0M294.9 481.4h0M337.4 486.7h0M298.0 477.5h0M327.6 491.2h0M295.9 457.5h0M320.2 464.1h0M286.1 461.4h0M316.9 486.4h0M302.0 501.4h0M276.8 482.8h0M277.8 452.8h0M296.9 497.4h0M289.1 462.2h0M285.3 467.0h0M299.8 479.1h0M355.1 465.3h0M382.4 468.6h0M390.3 446.9h0M366.8 420.1h0M383.0 450.5h0M361.5 493.9h0M378.3 489.6h0M362.9 415.6h0M355.1 471.2h0M399.7 449.3h0M360.2 406.6h0M368.4 415.8h0M354.9 489.9h0M368.7 428.8h0M368.4 452.1h0M346.4 466.3h0M371.1 485.0h0M358.5 474.6h0M349.2 463.3h0M371.7 427.5h0M356.6 426.0h0M362.4 502.2h0M372.0 440.5h0M378.6 497.6h0M355.3 468.2h0M369.8 421.2h0M377.3 475.5h0M354.4 469.2h0M367.5 424.1h0M373.4 497.3h0M357.9 444.5h0M377.1 468.8h0M339.6 468.7h0M363.7 509.2h0M380.9 498.4h0M365.6 471.2h0M390.4 426.9h0M372.1 461.5h0M356.6 502.4h0M354.8 494.6h0M363.2 417.5h0M359.2 402.9h0M398.8 455.3h0M378.3 438.2h0M382.9 441.3h0M373.0 422.6h0M374.0 457.4h0M362.3 490.9h0M374.2 486.1h0M365.3 448.4h0M383.6 421.7h0M358.6 429.0h0M356.7 489.4h0M366.9 490.3h0M343.2 473.2h0M389.5 434.9h0M386.7 492.5h0M390.0 454.0h0M381.9 491.2h0M387.9 463.3h0M369.4 508.5h0M344.9 474.3h0M373.5 460.8h0M378.5 499.6h0M359.1 491.8h0M356.9 474.9h0M373.3 450.8h0M388.2 453.8h0M386.1 477.9h0M354.4 495.9h0M361.3 490.6h0M380.0 470.1h0M387.7 467.0h0M371.5 431.2h0M342.4 476.4h0M353.3 458.4h0M376.6 423.7h0M390.9 470.2h0M380.3 484.8h0M377.6 435.5h0M375.9 489.8h0M400.4 448.8h0M373.9 439.8h0M342.8 460.9h0M365.3 469.1h0M371.3 447.1h0M396.9 455.7h0M374.3 473.1h0M362.4 446.2h0M383.3 484.9h0M381.6 495.8h0M376.5 438.1h0M396.3 450.2h0M379.5 457.6h0M345.6 461.5h0M368.9 424.2h0M347.1 475.4h0M376.6 477.9h0M384.2 476.2h0M372.1 462.8h0M381.4 450.2h0M365.8 502.7h0M361.5 488.4h0M366.8 471.2h0M387.6 446.3h0M375.9 453.4h0M371.4 432.2h0M358.8 516.4h0M365.3 477.7h0M375.8 473.3h0M392.7 431.4h0M370.0 497.4h0M373.8 471.7h0M381.9 461.4h0M381.1 475.5h0M353.1 475.8h0M371.2 498.8h0M347.5 475.3h0M385.9 451.1h0M369.7 430.4h0M374.2 468.8h0M345.5 464.2h0M382.1 422.0h0M391.0 471.1h0M360.0 429.0h0M364.4 414.4h0M364.0 474.9h0M393.4 489.6h0M376.1 440.0h0M358.5 490.1h0M373.7 425.8h0M349.8 461.8h0M391.1 458.9h0M367.5 419.7h0M380.0 447.6h0M382.9 445.9h0M369.9 480.0h0M393.4 491.2h0M373.6 471.9h0M362.3 473.0h0M365.2 506.7h0M384.6 445.3h0M378.1 425.8h0M394.7 481.7h0M378.3 418.8h0M357.0 463.4h0M367.3 450.0h0M361.3 402.0h0M378.6 442.9h0M380.2 490.3h0M363.5 413.8h0M377.3 472.8h0M360.2 463.4h0M368.3 468.1h0M384.5 451.7h0M370.2 444.8h0M382.2 427.8h0M376.1 425.1h0M366.2 506.8h0M354.6 471.0h0M359.0 408.2h0M359.1 409.2h0M363.1 408.3h0M362.9 406.8h0M355.9 421.5h0M358.4 405.8h0M360.6 423.3h0M354.4 427.8h0M360.4 423.2h0M359.1 407.0h0M361.0 404.9h0M356.0 422.7h0M358.0 417.0h0M361.8 415.7h0M360.4 422.4h0M362.9 411.7h0M353.3 426.4h0M353.5 428.8h0M352.2 427.8h0M362.4 418.2h0M362.8 405.3h0M356.7 426.2h0M357.8 402.3h0M359.5 407.7h0M357.1 414.0h0" stroke="#d9d95e" stroke-width="2.2" stroke-linecap="round" fill="none"/>
<path d="M317.8 485.8h0M292.4 460.1h0M309.4 491.5h0M324.2 485.6h0M338.7 489.8h0M284.1 452.6h0M295.2 447.4h0M308.2 479.3h0M280.5 484.1h0M301.0 489.7h0M308.7 487.7h0M281.0 469.1h0M304.8 462.7h0M272.7 463.6h0M297.0 494.4h0M304.1 484.6h0M300.2 459.6h0M296.8 478.6h0M287.7 490.0h0M312.4 469.3h0M275.2 464.5h0M301.4 500.3h0M310.8 484.9h0M322.8 483.2h0M307.0 502.9h0M306.6 483.8h0M329.5 493.6h0M282.1 460.3h0M302.0 472.3h0M338.7 489.2h0M299.3 448.5h0M331.9 493.2h0M286.4 473.4h0M300.9 490.7h0M333.4 492.6h0M312.3 461.9h0M289.7 456.3h0M308.0 468.8h0M305.1 474.5h0M306.2 462.4h0M303.4 505.9h0M282.1 472.0h0M300.5 474.0h0M291.7 485.2h0M293.6 477.5h0M316.4 487.3h0M322.8 486.7h0M316.8 490.5h0M311.2 477.2h0M312.9 467.3h0M282.2 468.2h0M309.9 476.9h0M273.4 462.8h0M301.9 452.5h0M298.8 475.1h0M272.1 455.7h0M304.4 504.3h0M304.1 459.5h0M289.1 457.7h0M298.9 466.5h0M322.6 465.7h0M289.6 458.5h0M308.8 465.1h0M317.1 462.5h0M308.8 491.2h0M278.9 466.1h0M318.9 489.1h0M295.2 467.6h0M290.7 455.7h0M299.2 467.0h0M299.7 501.1h0M293.2 467.0h0M291.6 483.1h0M297.9 490.9h0M333.2 489.4h0M292.4 489.3h0M321.7 489.3h0M331.5 490.8h0M282.5 467.3h0M316.4 485.0h0M298.6 461.1h0M303.3 470.7h0M288.1 451.4h0M275.7 465.2h0M306.3 495.5h0M303.0 506.0h0M291.1 466.0h0M303.0 493.9h0M272.1 457.5h0M271.4 472.1h0M306.2 502.8h0M297.7 492.7h0M287.4 447.4h0M299.5 460.2h0M298.3 459.5h0M293.0 484.1h0M297.9 463.7h0M311.2 492.4h0M284.2 453.6h0M318.1 462.5h0M322.0 480.6h0M273.5 467.3h0M316.5 488.5h0M320.8 463.1h0M310.7 476.5h0M296.7 490.9h0M323.7 485.7h0M293.8 487.6h0M286.5 454.8h0M304.1 452.7h0M322.6 482.9h0M320.3 475.5h0M311.9 495.8h0M317.8 492.8h0M299.7 460.4h0M294.5 456.1h0M315.0 488.4h0M312.1 495.3h0M287.7 483.9h0M325.0 485.3h0M279.5 463.6h0M289.4 465.3h0M316.7 469.4h0M298.2 453.1h0M310.4 471.4h0M269.6 467.1h0M294.1 461.1h0M303.7 501.6h0M309.8 493.3h0M302.6 471.9h0M301.7 496.1h0M311.5 470.6h0M311.6 469.5h0M304.3 466.1h0M289.8 471.9h0M288.9 447.2h0M302.5 458.5h0M300.7 473.2h0M314.5 469.4h0M296.4 499.5h0M312.8 470.1h0M295.3 480.7h0M319.8 470.9h0M289.3 450.2h0M303.0 476.0h0M282.2 468.4h0M303.9 464.9h0M316.2 488.2h0M293.7 464.6h0M318.6 470.7h0M270.3 472.2h0M319.7 481.9h0M304.4 489.4h0M306.7 474.4h0M302.9 476.4h0M303.8 483.8h0M289.6 455.3h0M324.1 466.5h0M287.5 458.0h0M270.5 480.1h0M289.7 447.4h0M313.0 467.2h0M278.2 455.4h0M284.6 482.7h0M291.4 487.9h0M275.4 475.3h0M274.5 473.3h0M277.1 473.5h0M272.8 481.7h0M278.5 469.4h0M274.7 462.9h0M278.1 472.0h0M272.5 462.1h0M275.2 471.1h0M278.8 464.9h0M274.2 471.7h0M275.7 472.9h0M269.8 470.3h0M281.6 478.5h0M273.3 474.1h0M272.4 470.5h0M275.8 476.1h0M275.7 470.3h0M275.4 475.4h0M272.0 465.8h0M273.0 473.9h0M284.8 474.1h0M274.0 471.5h0M270.0 465.1h0M278.1 484.6h0M277.4 477.5h0M268.4 473.7h0M274.6 468.4h0M270.7 474.0h0M273.8 475.6h0M281.7 486.0h0M277.4 471.2h0M279.0 472.4h0M275.5 466.8h0M270.8 473.6h0M280.2 473.9h0M275.0 484.3h0M272.9 469.5h0M278.1 466.7h0M270.7 466.2h0M274.8 469.0h0M279.9 466.3h0M275.6 464.0h0M273.9 461.2h0M274.4 476.9h0M286.0 460.2h0M274.4 469.8h0M273.9 478.9h0M279.0 472.9h0M271.9 462.4h0M277.5 482.7h0M275.8 476.5h0M273.5 469.3h0M281.7 473.2h0M280.7 475.5h0M279.2 476.3h0M278.7 469.4h0M277.7 483.1h0M279.3 469.7h0M275.0 468.7h0M278.2 473.1h0M269.2 467.4h0M276.6 474.9h0M274.2 476.5h0M271.1 479.6h0M270.6 479.1h0M269.9 463.1h0M271.5 477.3h0M276.1 475.9h0M279.0 469.3h0M273.0 476.3h0M270.9 470.3h0M281.6 472.2h0M271.8 477.8h0M278.2 481.2h0M274.3 477.7h0M278.3 473.6h0M273.8 476.3h0M273.8 470.6h0M273.4 478.7h0M269.7 471.2h0M276.7 476.2h0M276.8 456.9h0M276.1 474.5h0M285.9 460.1h0M267.7 466.3h0M276.1 472.9h0M277.7 467.7h0M280.8 478.2h0M278.0 472.6h0M289.6 455.2h0M278.0 468.9h0M284.5 466.1h0M282.9 480.1h0M291.9 485.8h0M301.3 463.7h0M294.0 476.3h0M282.0 464.8h0M288.9 471.1h0M283.6 475.6h0M310.3 487.3h0M293.8 446.9h0M290.5 483.6h0M289.0 463.3h0M278.4 461.9h0M280.9 463.8h0M290.2 477.1h0M285.7 479.6h0M285.0 473.0h0M316.4 479.7h0M278.6 484.7h0M294.5 466.7h0M292.8 476.0h0M296.7 470.1h0M279.8 460.7h0M295.4 479.8h0M281.3 458.7h0M284.2 456.1h0M294.4 472.5h0M288.8 460.3h0M378.4 448.1h0M380.6 447.3h0M368.8 457.0h0M377.1 435.6h0M382.3 428.5h0M366.0 441.3h0M364.2 416.3h0M376.4 435.3h0M370.5 429.2h0M366.8 440.6h0M359.7 435.4h0M359.3 437.0h0M371.2 432.0h0M365.0 451.8h0M362.3 437.9h0M368.6 445.8h0M371.2 450.8h0M384.5 423.0h0M371.4 435.1h0M369.8 443.5h0M360.8 425.3h0M362.7 433.2h0M365.0 426.2h0M386.5 442.5h0M365.0 416.0h0M375.9 441.7h0M374.9 451.7h0M373.5 445.1h0M366.3 430.4h0M363.1 450.0h0M379.6 438.5h0M371.6 426.0h0M373.5 426.7h0M381.6 460.3h0M374.2 447.8h0M369.7 455.5h0M378.0 419.8h0M378.0 455.0h0M360.7 441.3h0M383.9 449.9h0M376.0 436.0h0M362.0 425.1h0M373.5 426.4h0M378.2 423.7h0M375.5 421.8h0M377.6 456.1h0M384.6 432.4h0M367.6 425.6h0M367.5 413.8h0M366.5 441.4h0M379.8 433.7h0M385.7 445.4h0M379.5 453.8h0M366.4 450.0h0M370.7 425.7h0M377.1 447.0h0M386.5 432.7h0M385.9 431.0h0M369.8 444.4h0M364.5 422.9h0M376.6 428.3h0M384.8 448.5h0M358.8 437.0h0M374.7 419.9h0M376.7 451.2h0M368.1 423.7h0M377.3 455.6h0M379.3 418.7h0M377.8 421.9h0M380.9 439.0h0M366.6 425.3h0M383.2 450.0h0M379.1 436.3h0M363.5 431.3h0M358.2 447.3h0M374.9 438.5h0M375.7 416.5h0M363.0 444.3h0M371.7 455.5h0M361.9 429.3h0M367.1 426.1h0M377.3 428.1h0M367.9 451.0h0M356.9 444.3h0M371.1 432.0h0M369.3 419.7h0M358.7 447.6h0M365.3 423.7h0M361.2 443.1h0M378.1 442.0h0M368.4 420.0h0M379.6 431.6h0M383.0 436.2h0M362.5 455.2h0M366.6 416.6h0M376.0 426.4h0M377.0 447.0h0M362.1 428.2h0M366.7 446.8h0M387.3 444.5h0M368.6 458.7h0M374.1 445.4h0M378.7 429.5h0M374.7 433.4h0M370.9 428.7h0M385.8 449.1h0M356.3 442.1h0M386.1 430.7h0M372.6 430.0h0M372.9 445.9h0M369.1 442.0h0M374.6 440.1h0M371.9 421.7h0M363.5 445.4h0M386.3 455.9h0M361.8 442.3h0M366.4 426.8h0M365.9 416.8h0M366.5 421.8h0M382.6 449.7h0M372.8 417.2h0M369.8 424.0h0M370.0 455.9h0M360.9 438.2h0M370.2 433.5h0M383.7 434.2h0M383.5 426.8h0M366.6 413.2h0M361.8 428.0h0M363.6 417.2h0M370.4 417.7h0M364.8 437.2h0M375.6 438.2h0M380.6 433.8h0M382.9 445.9h0M374.9 416.0h0M365.1 425.2h0M384.0 455.4h0M378.2 445.7h0M357.0 433.8h0M357.6 442.7h0M364.8 420.3h0M381.9 452.9h0M370.6 435.7h0M358.2 441.7h0M379.7 456.2h0M382.2 452.1h0M360.9 458.0h0M372.8 447.3h0M376.0 442.4h0M378.6 431.5h0M374.0 447.6h0M368.1 439.1h0M383.3 442.4h0M370.6 431.6h0M357.8 430.0h0M387.4 436.9h0M370.0 444.6h0M362.1 433.6h0M362.6 437.8h0M371.6 451.6h0M380.1 429.5h0M388.0 439.8h0M367.5 419.3h0M375.1 424.8h0M358.7 435.2h0M371.2 447.8h0M365.8 446.1h0M365.1 418.1h0M381.3 444.0h0M376.6 449.0h0M371.7 414.4h0M359.4 438.6h0M379.2 457.7h0M374.8 456.1h0M371.0 449.4h0M355.2 438.2h0M379.7 451.3h0M385.6 431.7h0M377.5 458.0h0M364.5 442.5h0M374.5 430.5h0M360.1 449.1h0M380.3 435.6h0M382.8 426.4h0M375.1 435.6h0M372.8 424.9h0M358.4 451.9h0M369.4 428.7h0M379.6 428.3h0M365.4 424.5h0M377.0 452.0h0M370.4 454.9h0M368.1 438.3h0M382.0 426.6h0M370.3 429.1h0M383.1 450.9h0M366.9 411.9h0M358.6 446.0h0M375.0 447.8h0M356.9 495.5h0M381.7 492.3h0M369.4 498.0h0M381.8 473.1h0M362.2 511.5h0M360.9 469.1h0M370.7 496.1h0M375.8 498.5h0M369.8 468.2h0M365.3 490.2h0M387.9 491.5h0M375.7 501.1h0M374.6 502.0h0M356.4 475.3h0M359.6 487.6h0M363.2 515.1h0M379.1 465.7h0M354.2 477.5h0M366.4 491.8h0M385.6 477.4h0M368.6 484.9h0M359.1 495.3h0M382.9 475.2h0M358.2 467.0h0M375.3 468.9h0M387.2 474.8h0M368.5 497.5h0M363.5 499.5h0M356.9 517.5h0M356.2 497.8h0M383.3 469.6h0M387.7 490.8h0M359.2 481.4h0M375.8 482.4h0M379.0 486.1h0M373.3 494.7h0M382.0 478.8h0M372.2 498.0h0M360.7 471.5h0M367.5 497.0h0M382.4 494.7h0M370.3 489.5h0M379.5 481.5h0M361.8 484.2h0M367.4 465.2h0M359.4 502.9h0M382.8 466.0h0M358.7 476.4h0M382.1 490.3h0M362.9 498.5h0M378.7 496.3h0M372.2 500.0h0M356.6 482.7h0M364.5 497.0h0M380.3 497.1h0M365.3 501.7h0M380.0 489.8h0M379.5 463.0h0M377.4 468.3h0M371.0 499.8h0M356.4 474.8h0M376.3 464.5h0M368.2 465.0h0M375.1 499.6h0M356.2 470.7h0M364.6 480.4h0M370.0 497.0h0M364.2 463.3h0M359.2 518.1h0M367.7 472.1h0M372.9 466.5h0M361.2 497.1h0M365.6 466.9h0M375.8 477.0h0M386.9 473.5h0M358.4 478.9h0M381.4 475.4h0M366.7 494.1h0M380.3 492.0h0M357.5 521.3h0M373.3 494.3h0M374.3 465.1h0M374.6 467.9h0M383.6 468.4h0M362.4 506.4h0M358.0 473.4h0M382.5 492.2h0M365.7 510.9h0M373.2 468.3h0M353.4 490.8h0M354.2 490.6h0M379.2 480.7h0M376.8 484.9h0M360.3 466.4h0M373.5 502.0h0M372.4 482.0h0M356.0 472.5h0M383.6 484.6h0M374.1 472.1h0M361.1 466.0h0M387.9 477.7h0M367.9 471.5h0M366.1 462.3h0M367.1 498.2h0M364.6 464.3h0M376.8 487.9h0M379.0 466.5h0M380.6 496.8h0M382.0 475.7h0M355.8 479.8h0M355.5 493.3h0M357.6 488.2h0M365.1 496.6h0M363.7 468.6h0M366.1 500.2h0M371.6 499.9h0M385.7 477.8h0M365.9 496.1h0M355.6 501.8h0M374.2 481.7h0M357.4 487.4h0M374.8 464.3h0M364.1 513.1h0M356.5 492.3h0M361.1 500.0h0M359.9 511.4h0M376.6 501.6h0M385.2 469.7h0M370.6 488.4h0M364.1 467.6h0M380.6 463.0h0M373.3 482.8h0M366.3 477.8h0M353.4 487.5h0M358.4 508.0h0M370.7 492.1h0M355.7 469.7h0M359.2 471.7h0M356.6 481.5h0M371.9 492.4h0M367.4 492.1h0M354.4 486.3h0M376.1 463.3h0M363.8 480.2h0M376.3 490.7h0M366.8 482.0h0M354.1 477.2h0M358.4 513.1h0M365.8 472.6h0M380.2 498.3h0M368.0 492.6h0M379.3 470.0h0M368.7 493.8h0M359.0 513.3h0M383.5 486.7h0M359.6 487.7h0M369.9 494.2h0M361.1 483.9h0M365.0 463.0h0M359.1 474.4h0M372.1 479.9h0M377.8 483.6h0M380.9 475.4h0M385.8 473.8h0M357.9 515.4h0M357.9 511.4h0M358.0 501.4h0M362.1 485.4h0M362.1 469.4h0M365.2 472.8h0M381.4 477.5h0M377.1 496.2h0M377.0 485.6h0M366.5 486.9h0M358.0 518.5h0M377.7 501.0h0M360.2 506.4h0M368.9 467.1h0M375.6 465.1h0M367.8 486.8h0M356.8 494.4h0M375.7 476.6h0M373.3 465.0h0M378.7 497.2h0M363.1 465.2h0M376.1 502.6h0M379.0 480.9h0M367.0 510.0h0M374.0 478.5h0M356.5 504.4h0M382.5 488.3h0M360.1 463.5h0M371.7 504.8h0M355.7 487.3h0M365.8 490.1h0M373.7 489.0h0M377.3 475.4h0M378.8 490.7h0M373.5 498.7h0M371.6 500.1h0M360.0 508.4h0M364.9 507.6h0M365.7 499.1h0M362.6 503.9h0M364.2 501.7h0M361.5 506.0h0M366.1 509.0h0M366.4 507.9h0M357.6 503.2h0M359.2 513.2h0M376.4 501.0h0M358.6 511.4h0M371.7 503.2h0M367.6 509.8h0M358.2 505.6h0M362.4 500.5h0M357.4 506.6h0M358.4 510.0h0M362.0 501.4h0M357.2 509.2h0M368.1 500.3h0M368.2 505.1h0M362.9 509.5h0M358.3 515.9h0M358.2 506.6h0M355.2 503.4h0M363.1 514.5h0M357.8 518.2h0M361.7 516.4h0M357.0 511.6h0M362.4 511.1h0M361.5 502.5h0M357.3 502.3h0M362.8 507.5h0M358.3 516.2h0M360.0 503.7h0M360.6 503.2h0M363.2 514.0h0M371.3 501.2h0M372.1 501.7h0M375.7 499.8h0M358.8 509.8h0M364.1 501.6h0M372.1 505.2h0M360.5 501.8h0M356.8 503.0h0M366.8 511.4h0M372.3 503.0h0M360.7 513.0h0M357.5 500.6h0M361.6 504.0h0M354.6 499.9h0M356.8 506.2h0M360.8 501.7h0M361.6 508.8h0M394.2 443.9h0M389.5 490.1h0M393.7 476.3h0M390.0 488.4h0M389.1 438.7h0M392.7 472.6h0M390.3 438.7h0M392.9 481.4h0M392.2 435.3h0M391.1 427.5h0M391.5 492.3h0M391.9 437.6h0M393.9 442.5h0M394.0 440.6h0M387.4 490.2h0M389.3 491.6h0M391.7 458.4h0M395.6 442.9h0M391.5 435.3h0M388.8 438.1h0M393.9 480.4h0M391.8 431.9h0M393.6 457.0h0M394.0 444.6h0M390.0 453.8h0M390.4 452.6h0M391.5 442.7h0M393.3 488.9h0M390.0 476.9h0M389.8 481.3h0M388.8 481.2h0M388.4 466.4h0M389.7 425.4h0M397.8 450.1h0M397.3 450.4h0M389.6 435.8h0M391.3 436.8h0M391.6 432.7h0M388.5 489.0h0M394.5 448.2h0M354.6 458.9h0M346.9 462.3h0M349.1 460.6h0M347.8 467.6h0M348.5 464.2h0M353.7 462.7h0M345.3 472.7h0M355.5 457.7h0M354.0 467.5h0M343.7 473.8h0M342.6 459.4h0M350.6 467.7h0M354.7 462.0h0M339.3 461.9h0M344.6 468.2h0M349.4 475.8h0M353.3 462.5h0M355.2 463.9h0M350.7 461.7h0M342.2 461.0h0M355.9 460.3h0M354.0 457.4h0M353.2 459.7h0M354.4 459.9h0M339.3 466.8h0M353.3 468.2h0M355.1 460.9h0M338.9 468.9h0M340.3 473.1h0M341.3 470.4h0M345.4 474.3h0M342.6 474.6h0M347.9 465.0h0M339.5 470.7h0M340.8 465.4h0M347.5 459.8h0M347.8 471.9h0M347.3 473.2h0M342.3 468.5h0M353.0 463.4h0M345.9 470.9h0M341.3 460.1h0M348.9 477.9h0M350.1 475.6h0M346.9 469.1h0M353.2 461.0h0M349.4 467.7h0M345.4 469.7h0M345.4 467.4h0M344.6 461.5h0M348.9 472.5h0M354.6 462.4h0M341.5 468.6h0M352.9 467.5h0M350.8 461.8h0M348.8 457.7h0M340.0 466.5h0M340.5 465.7h0M345.2 461.5h0M344.6 470.8h0M353.2 459.4h0M354.6 468.0h0M338.0 464.1h0M352.4 465.8h0M349.2 477.9h0M352.4 459.5h0M353.2 463.1h0M350.7 464.5h0M353.4 463.9h0M338.2 467.7h0M343.4 460.2h0M349.8 476.8h0M349.0 466.0h0M345.9 461.4h0M347.7 471.0h0M345.2 475.6h0M346.5 463.7h0M351.8 466.3h0M355.0 457.6h0M346.2 466.9h0M341.3 472.2h0M343.4 468.7h0M338.5 475.8h0M336.6 474.6h0M345.7 458.5h0M343.8 474.7h0M347.6 458.9h0M345.2 477.9h0M349.0 472.4h0M344.3 474.3h0M348.5 470.5h0M342.9 463.6h0M344.7 457.8h0M354.5 460.4h0M353.5 457.6h0M339.1 469.1h0M349.4 477.7h0M342.2 462.3h0M347.7 479.4h0M337.7 471.6h0M350.5 474.5h0M347.6 471.4h0M351.2 468.0h0M351.2 468.3h0M339.7 472.1h0M347.9 462.5h0M339.0 467.0h0M349.8 476.1h0M339.0 464.8h0M344.3 464.2h0M337.6 440.0h0M335.0 442.0h0M334.1 443.6h0M340.1 443.3h0M337.3 439.4h0M336.2 443.0h0M338.5 443.3h0M330.7 440.9h0M342.4 440.8h0M336.6 442.7h0M332.4 441.1h0M335.0 438.0h0M334.9 443.3h0M333.6 444.5h0M341.3 442.2h0M340.4 444.2h0M341.8 440.6h0M336.7 442.0h0M334.1 439.5h0M334.4 442.2h0M334.5 447.7h0M336.7 439.3h0M320.3 458.6h0M347.3 442.1h0M311.3 459.4h0M325.9 453.0h0M311.0 461.0h0M318.0 456.1h0M325.9 451.6h0M315.8 454.7h0M313.4 459.4h0M350.5 443.4h0M323.8 456.6h0M344.3 447.0h0M331.5 448.8h0M343.0 446.0h0M344.8 445.2h0M322.8 454.7h0M316.7 460.3h0M328.3 453.6h0M321.2 454.9h0M347.2 441.8h0M324.1 456.5h0M331.5 451.7h0M352.4 524.8h0M350.0 523.7h0M351.0 528.1h0M352.8 522.5h0M353.1 526.2h0M351.1 525.9h0M352.7 533.2h0M347.9 528.4h0M353.6 530.2h0M354.1 529.1h0M355.5 529.6h0M349.8 530.7h0M348.6 526.9h0M352.9 532.3h0M350.1 523.8h0M353.4 529.6h0M368.3 547.2h0M364.0 543.9h0M365.0 539.8h0M367.5 549.8h0M369.6 550.0h0M368.5 551.7h0M366.2 539.1h0M367.9 540.6h0M368.3 537.9h0M365.6 541.7h0M370.0 546.9h0M371.0 548.5h0M365.4 540.0h0M371.1 548.5h0M368.0 549.6h0M364.8 537.7h0M367.0 538.7h0M369.3 543.4h0M369.6 548.0h0M367.3 536.9h0M366.8 538.0h0M365.7 548.7h0M355.1 533.5h0M355.7 533.6h0M353.7 532.9h0M357.2 534.7h0M356.0 533.9h0M353.7 533.7h0M362.4 541.4h0M355.8 534.4h0M359.2 535.5h0M354.9 532.9h0M326.1 507.4h0M324.2 510.7h0M324.8 507.9h0M322.2 506.1h0M319.0 502.5h0M316.0 517.0h0M314.8 517.7h0M345.3 485.9h0M346.4 484.8h0M342.4 484.2h0M343.7 482.6h0M346.6 482.1h0M341.8 481.9h0M317.6 461.8h0M330.2 483.4h0M335.4 478.2h0M332.6 477.5h0M329.3 462.7h0M327.4 468.4h0M335.6 467.7h0M322.1 474.2h0M325.7 465.3h0M335.6 477.3h0M369.4 521.5h0M371.4 520.5h0M368.2 523.2h0M372.7 519.2h0M367.4 523.6h0" stroke="#e58f22" stroke-width="2.4" stroke-linecap="round" fill="none"/>
<path d="M378.3 500.2h0M366.2 509.5h0M364.5 504.7h0M370.1 502.8h0M357.0 504.8h0M357.8 515.6h0M377.8 500.0h0M376.3 501.0h0M367.1 505.9h0M365.0 511.5h0M364.4 509.7h0M371.1 505.0h0M375.8 501.6h0M359.2 518.0h0M364.3 514.8h0M372.4 505.2h0M362.3 515.0h0M366.9 509.6h0M356.0 514.7h0M358.7 499.4h0M361.9 500.1h0M366.4 506.7h0M357.6 513.6h0M356.6 502.2h0M361.6 508.9h0M363.7 505.8h0M368.8 507.6h0M363.1 509.3h0M359.9 505.4h0M368.7 508.6h0M337.3 490.4h0M302.1 481.7h0M313.5 466.8h0M290.4 484.7h0M313.4 481.5h0M279.4 470.5h0M286.8 481.2h0M319.9 483.5h0M279.0 474.2h0M297.1 448.6h0M281.4 476.8h0M294.1 447.6h0M337.0 487.0h0M316.2 479.1h0M277.7 455.1h0M305.6 480.4h0M360.4 424.7h0M387.0 445.8h0M386.1 425.4h0M381.7 458.9h0M384.6 433.0h0M362.4 438.7h0M370.6 441.1h0M374.5 415.9h0M375.0 442.5h0M371.5 426.5h0M360.8 440.8h0M386.1 425.1h0M382.4 447.1h0M383.9 442.9h0M383.2 432.1h0M366.9 446.8h0M370.2 425.8h0M387.1 442.5h0M378.0 441.9h0M375.4 460.8h0M374.1 425.7h0M370.4 427.1h0M379.6 425.8h0M362.1 452.0h0M386.4 440.8h0M371.6 444.1h0M371.9 456.4h0M381.0 449.6h0M365.9 443.0h0M373.3 454.0h0M359.3 453.1h0M363.9 435.8h0M376.7 459.9h0M373.6 433.1h0M380.1 460.1h0M379.7 454.0h0M359.5 440.7h0M376.1 429.0h0M374.8 415.3h0M363.8 428.7h0M356.2 435.4h0M379.7 424.6h0M371.9 414.0h0M362.9 449.7h0M384.1 458.1h0M371.5 441.1h0M384.3 426.2h0M387.2 444.4h0M362.1 432.6h0M359.9 450.8h0M368.4 416.2h0M371.5 440.4h0M359.1 442.8h0M379.9 430.5h0M365.8 418.2h0M377.6 447.0h0M375.9 441.9h0M384.3 441.6h0M376.3 439.5h0M369.8 459.7h0M369.3 473.0h0M355.8 475.5h0M367.2 490.9h0M385.8 478.3h0M360.6 472.7h0M354.3 473.2h0M357.2 468.5h0M375.6 492.0h0M372.7 481.1h0M358.4 479.0h0M371.4 462.2h0M373.8 476.5h0M358.2 478.6h0M354.5 473.9h0M356.2 503.2h0M370.7 467.1h0M362.5 499.0h0M381.8 496.3h0M378.3 462.9h0M365.6 482.2h0M362.1 476.9h0M380.2 483.5h0M370.2 470.0h0M371.1 469.3h0M381.6 492.8h0M379.6 474.5h0M368.7 469.6h0M355.0 477.0h0M359.0 517.5h0M355.7 503.3h0M365.3 508.9h0M380.2 492.0h0M376.7 497.2h0M369.0 484.3h0M364.8 482.0h0M371.5 486.1h0M357.7 469.6h0M381.5 473.2h0M371.9 473.6h0M362.3 496.6h0M378.6 499.0h0M358.3 464.9h0M361.6 478.8h0M371.4 476.4h0M363.7 465.5h0M370.1 489.4h0M368.4 507.1h0M374.8 465.3h0M370.1 491.2h0M379.7 486.7h0M382.6 491.9h0M365.6 503.5h0M357.9 511.4h0M371.2 472.1h0M358.3 511.5h0M357.4 520.9h0M386.1 489.1h0M368.4 492.6h0M357.6 516.7h0M370.7 480.5h0M382.6 464.6h0M374.1 491.1h0M379.1 485.5h0M363.6 505.4h0M377.5 477.5h0M364.4 509.1h0M372.5 468.5h0M361.3 497.9h0M379.5 491.6h0M354.9 481.0h0M364.8 462.9h0M386.3 477.3h0M357.2 498.0h0M376.7 478.5h0M373.2 496.9h0M384.6 491.3h0M372.0 462.8h0M365.1 463.0h0M372.4 475.4h0M371.6 467.7h0M355.2 481.0h0M367.5 489.0h0M367.7 503.6h0M380.2 486.6h0M368.4 464.0h0M382.9 468.9h0M375.2 462.7h0M386.6 471.7h0M383.8 466.1h0M372.7 470.0h0M355.2 520.0h0M359.0 476.3h0M362.6 487.1h0M357.8 467.6h0M365.2 477.8h0M357.8 473.8h0M356.4 496.3h0M366.5 491.9h0M363.7 515.0h0M358.2 482.5h0M356.9 506.3h0M361.4 470.6h0M376.4 468.3h0M378.4 476.5h0M358.0 510.9h0M356.5 483.7h0M368.9 474.5h0M370.6 466.3h0M360.4 465.6h0M361.9 513.1h0M381.5 486.8h0M375.1 471.0h0M356.1 474.8h0M376.0 477.4h0M368.1 475.8h0M372.1 491.2h0M376.8 469.7h0M383.3 468.1h0M378.1 464.1h0M368.8 487.7h0M362.1 490.1h0M367.4 479.7h0M371.9 486.7h0M364.5 486.5h0M363.5 498.1h0M371.1 496.1h0M362.6 489.4h0M370.5 484.6h0M369.0 482.2h0M364.2 485.2h0M367.8 492.9h0M376.3 477.3h0M364.7 491.2h0M362.6 493.3h0M362.3 496.3h0M362.2 497.6h0M372.6 493.3h0M369.9 487.4h0M361.0 481.1h0M362.5 496.4h0M361.3 487.1h0M362.8 488.5h0M376.1 501.9h0M373.1 495.8h0M371.0 493.2h0M376.7 485.5h0M371.1 496.4h0M365.4 496.9h0M378.3 492.5h0M364.6 495.2h0M371.4 486.8h0M366.9 489.8h0M370.1 490.2h0M361.9 497.6h0M363.4 486.7h0M376.5 490.9h0M374.2 488.5h0M361.7 483.2h0M380.5 476.1h0M365.1 484.8h0M376.3 492.8h0M374.4 497.8h0M371.2 484.5h0M357.7 498.3h0M370.1 492.0h0M360.1 493.7h0M365.2 481.3h0M367.9 489.0h0M375.4 487.6h0M373.0 488.5h0M362.6 498.5h0M362.2 486.4h0M369.5 476.6h0M372.5 492.1h0M373.0 489.9h0M367.5 487.4h0M360.8 484.2h0M367.8 492.7h0M373.2 491.6h0M370.0 486.2h0M373.6 492.6h0M376.0 484.0h0M376.3 492.9h0M371.3 497.2h0M367.5 468.1h0M359.9 484.8h0M371.6 493.8h0M372.5 492.4h0M367.8 501.4h0M373.0 497.5h0M362.8 486.8h0M362.6 489.7h0M380.6 483.7h0M376.3 500.2h0M363.9 489.8h0M371.3 498.2h0M362.6 481.3h0M362.8 489.4h0M365.5 492.8h0M369.3 486.3h0M371.8 495.9h0M362.7 496.6h0M362.0 487.5h0M366.4 486.7h0M370.1 503.6h0M376.4 484.4h0M361.9 494.9h0M380.2 491.4h0M360.9 498.2h0M386.5 489.8h0M372.2 497.2h0M371.4 489.7h0M375.8 497.1h0M377.0 480.7h0M368.6 502.2h0M378.9 498.1h0M365.8 484.0h0M377.5 489.8h0M373.8 487.6h0M354.1 483.8h0M388.8 443.2h0M390.1 464.3h0M388.9 446.1h0M392.7 450.6h0M389.3 444.9h0M392.4 430.4h0M396.5 452.4h0M390.6 487.6h0M340.6 469.8h0M344.6 463.5h0M349.5 477.3h0M350.1 465.4h0M341.3 462.0h0M335.0 447.4h0M340.1 445.3h0M332.8 441.6h0M332.2 445.9h0M339.9 441.5h0M339.0 439.8h0M329.6 450.1h0M339.7 448.8h0M311.4 461.1h0M319.5 455.2h0M331.4 450.1h0M352.7 533.3h0M354.4 526.0h0M353.9 527.4h0M348.5 526.1h0M355.0 529.8h0M350.0 528.5h0M349.7 523.7h0M350.8 533.4h0M354.0 525.2h0M349.4 530.1h0M351.5 534.0h0M350.0 530.1h0M354.9 523.8h0M348.7 527.7h0M367.0 545.8h0M365.4 546.9h0M365.5 537.3h0M366.3 549.0h0M364.4 544.8h0M367.9 543.7h0M365.7 539.8h0M367.7 544.1h0M361.4 539.4h0M358.2 536.8h0M358.6 537.6h0M360.7 537.8h0M358.8 537.4h0M333.7 492.2h0M330.6 492.4h0M335.9 490.0h0M331.6 493.1h0M332.2 493.6h0M337.3 488.7h0M332.7 492.3h0M330.8 492.5h0M336.0 490.7h0M330.4 492.7h0M334.6 490.0h0M334.2 492.4h0M332.9 492.7h0M323.2 505.6h0M321.9 507.5h0M319.8 502.5h0M322.9 505.4h0M324.1 510.9h0M323.9 509.5h0M322.0 507.5h0M337.5 486.0h0M341.3 489.0h0M316.3 520.0h0M322.3 536.5h0M325.3 533.0h0M370.8 521.0h0M373.1 519.2h0M341.2 449.4h0M322.5 469.6h0M313.3 461.8h0M322.8 474.7h0M329.7 455.5h0" stroke="#d3261c" stroke-width="2.3" stroke-linecap="round" fill="none"/>
<path d="M426.5 444.3h0" stroke="#e2e288" stroke-width="2.8" stroke-linecap="round" fill="none"/>
</g>
<g>
<path d="M598.2 490.1h0M581.9 499.1h0M593.1 483.1h0M596.3 478.3h0M607.5 494.1h0M574.8 485.8h0M610.5 486.9h0M579.5 499.9h0M586.8 490.3h0M607.2 483.1h0M602.8 498.3h0M596.1 497.3h0M605.7 482.1h0M589.4 486.8h0M592.8 490.5h0M594.9 497.9h0M595.1 494.2h0M580.5 481.2h0M587.0 493.5h0M585.4 479.3h0M600.1 495.8h0M589.3 504.8h0M607.8 490.5h0M588.1 483.4h0M583.5 484.7h0M589.8 481.2h0M602.5 490.1h0M583.3 503.9h0M606.1 499.2h0M607.8 493.6h0M606.5 485.2h0M594.3 484.3h0M574.4 493.4h0M598.5 500.8h0M589.3 503.9h0M574.5 489.2h0M599.0 480.0h0M594.5 485.7h0M580.0 481.6h0M588.2 496.8h0M601.1 501.5h0M603.6 499.1h0M576.0 498.3h0M580.3 496.8h0M585.7 477.5h0M588.6 485.2h0M593.1 492.1h0M596.9 491.0h0M594.0 492.5h0M603.0 489.2h0M598.6 489.1h0M593.6 487.5h0M575.4 488.8h0M583.1 496.6h0M591.2 483.1h0M588.5 490.3h0M592.6 497.0h0M608.1 498.8h0M599.5 501.0h0M600.7 496.0h0M588.5 494.0h0M585.7 485.3h0M595.0 478.6h0M585.3 503.5h0M600.9 482.3h0M586.6 494.8h0M610.5 485.6h0M583.4 500.7h0M581.3 493.5h0M584.3 487.2h0M590.5 494.1h0M584.4 481.3h0M609.8 496.6h0M574.3 490.8h0M600.7 483.2h0M577.2 485.2h0M587.9 480.2h0M604.3 500.0h0M580.8 487.9h0M595.0 482.8h0M602.5 498.2h0M605.2 493.8h0M604.6 486.1h0M584.0 486.5h0M576.2 491.1h0M599.9 481.8h0M575.0 490.6h0M600.0 495.1h0M609.7 491.8h0M589.4 496.2h0M587.2 491.7h0M597.9 481.3h0M579.8 500.8h0M599.9 482.6h0M611.2 487.6h0M587.2 494.0h0M598.7 481.0h0M609.7 491.8h0M603.7 497.6h0M607.8 486.8h0M580.5 491.9h0M605.2 486.8h0M574.5 495.5h0M581.7 479.4h0M608.3 491.1h0M578.3 483.2h0M599.4 465.2h0M595.6 443.0h0M590.5 443.6h0M592.0 452.2h0M598.3 464.3h0M596.0 457.7h0M581.2 441.9h0M598.2 468.0h0M586.7 468.6h0M590.8 452.3h0M593.9 462.6h0M602.4 465.2h0M599.7 467.1h0M601.8 471.5h0M595.0 438.2h0M601.3 443.5h0M581.9 441.0h0M590.7 463.5h0M585.6 460.7h0M586.6 440.3h0" stroke="#c9212d" stroke-width="2.5" stroke-linecap="round" fill="none"/>
<path d="M579.9 496.2h0M604.9 491.1h0M604.4 483.0h0M592.9 479.7h0M591.1 492.2h0M603.8 482.3h0M578.3 490.0h0M591.1 487.4h0M582.2 493.9h0M587.1 503.0h0M603.7 487.1h0M610.9 493.3h0M603.6 490.2h0M576.2 486.1h0M593.9 497.3h0M590.1 493.1h0M603.4 476.6h0M596.2 483.7h0M579.0 501.3h0M592.7 482.7h0M594.9 477.7h0M573.8 489.7h0M583.4 496.4h0M608.5 484.8h0M585.6 496.5h0M597.7 476.9h0M589.1 482.8h0M605.3 497.2h0M576.8 490.1h0M597.9 498.2h0M583.1 502.7h0M588.7 480.5h0M602.4 489.6h0M600.0 483.8h0M579.5 495.9h0M610.1 489.8h0M588.5 484.2h0M575.1 493.8h0M591.2 502.1h0M594.1 477.7h0M574.2 493.1h0M597.6 489.9h0M585.1 494.4h0M584.0 478.0h0M579.7 479.3h0M601.8 491.4h0M601.1 490.5h0M594.2 502.5h0M597.1 498.1h0M607.8 482.3h0M576.7 488.0h0M590.0 493.0h0M609.6 491.4h0M590.0 494.8h0M588.6 448.6h0M593.5 467.5h0M593.2 476.2h0M590.2 434.2h0M587.3 459.8h0M586.8 442.9h0M577.4 445.5h0M596.6 444.9h0M581.9 462.3h0M597.0 450.2h0M589.0 454.1h0M598.9 460.1h0M575.6 460.4h0M577.7 453.6h0M581.8 433.9h0M582.0 436.7h0M581.4 462.9h0M578.0 440.8h0M585.0 472.5h0M603.2 466.1h0M597.7 455.4h0M587.3 467.5h0M600.1 465.3h0M589.0 442.1h0M594.8 452.9h0M584.6 446.4h0M602.5 446.8h0M598.3 455.3h0M596.9 453.1h0M596.4 474.7h0M594.8 443.9h0M600.0 470.6h0M597.2 454.6h0M584.3 437.5h0M576.5 460.1h0M601.6 428.5h0M610.6 450.0h0M589.3 428.2h0M599.5 430.5h0M582.8 432.5h0M590.2 427.6h0M605.6 426.6h0M581.1 427.7h0M604.3 433.3h0M578.8 430.5h0M545.3 488.0h0M555.7 490.4h0M555.2 490.3h0M552.2 490.1h0M550.6 468.0h0M556.6 448.3h0M568.7 473.3h0M536.9 474.9h0M567.9 456.9h0M549.0 482.3h0M553.3 483.1h0M545.5 474.3h0M575.0 461.2h0M568.2 455.6h0M559.7 465.3h0M545.9 484.4h0M558.3 441.5h0M573.2 527.2h0M570.7 532.8h0M500.1 476.0h0M514.5 456.8h0M516.0 495.9h0M532.1 522.9h0M539.0 479.2h0M541.9 467.1h0M592.8 518.3h0M572.1 433.2h0M571.5 456.8h0M601.6 487.7h0M588.4 494.1h0M605.0 498.7h0M588.4 481.8h0M592.0 487.1h0M597.5 491.4h0M597.6 490.3h0M580.1 491.9h0M592.6 496.9h0M581.4 482.8h0M595.6 489.5h0M594.8 500.1h0M586.7 498.4h0M590.1 494.7h0M587.4 495.2h0M585.9 488.7h0M585.0 487.3h0M579.2 489.5h0M598.1 487.1h0M587.3 492.2h0M581.9 491.9h0M597.2 496.6h0M596.5 484.5h0M601.7 485.6h0M580.5 487.3h0M594.9 485.3h0M601.1 495.4h0M586.8 481.7h0M593.3 491.1h0M599.3 495.5h0M601.2 490.4h0M585.2 486.6h0M587.8 494.0h0M588.8 496.4h0M587.1 487.2h0M594.8 483.9h0M596.3 480.8h0M604.7 465.1h0M600.6 479.0h0M600.5 478.0h0M601.5 473.9h0M600.4 474.6h0M601.2 472.5h0M601.3 470.7h0M602.9 473.4h0M603.9 466.5h0M602.2 476.0h0M601.5 474.3h0M598.1 482.8h0M584.2 452.1h0M601.0 450.2h0M602.5 471.1h0M589.4 476.1h0M586.2 439.5h0M587.9 473.4h0M589.3 433.7h0M581.3 449.1h0M606.5 468.2h0M602.7 450.7h0M589.8 440.0h0M596.3 474.2h0M601.0 441.7h0M583.5 468.3h0M605.2 474.8h0M578.3 438.9h0M586.8 458.7h0M608.2 433.8h0M607.8 452.6h0M579.1 434.2h0M543.0 489.2h0M556.4 491.4h0M548.8 491.1h0M549.1 493.5h0M574.2 462.4h0M566.2 482.1h0M567.1 458.2h0M555.1 436.8h0M555.3 441.5h0M555.5 436.5h0M553.3 438.9h0M556.9 437.4h0M571.3 533.2h0M571.1 530.2h0M572.3 531.7h0M569.6 526.5h0M572.5 533.6h0M571.2 529.2h0M570.0 529.8h0M586.1 549.9h0M588.2 548.8h0M587.8 546.1h0M582.7 405.0h0M515.1 451.6h0M543.3 505.1h0M546.2 524.7h0M543.9 452.7h0M561.4 469.7h0M615.3 451.0h0" stroke="#a31d45" stroke-width="2.5" stroke-linecap="round" fill="none"/>
<path d="M594.8 488.0h0M585.4 491.1h0M582.1 491.6h0M600.8 491.5h0M583.4 488.9h0M587.8 496.7h0M587.3 489.1h0M590.6 489.7h0M591.5 488.5h0M588.7 489.2h0M596.2 487.3h0M580.0 489.6h0M588.0 483.8h0M594.0 487.0h0M592.2 495.5h0M583.1 484.6h0M593.0 493.1h0M582.2 491.6h0M596.6 495.1h0M586.8 491.1h0M592.1 491.9h0M585.8 485.9h0M589.1 488.6h0M605.0 487.8h0M596.6 493.5h0M577.0 495.8h0M595.6 498.2h0M597.7 498.1h0M596.1 488.4h0M582.4 489.6h0M588.5 487.8h0M592.7 491.2h0M593.5 488.4h0M588.6 486.6h0M584.8 490.2h0M589.8 488.8h0M599.9 492.0h0M610.5 486.8h0M597.5 489.4h0M597.4 491.1h0M598.0 492.2h0M591.3 486.9h0M582.3 493.2h0M579.5 491.5h0M582.6 491.1h0M590.2 491.9h0M593.7 482.4h0M598.2 492.7h0M579.9 489.7h0M584.8 495.2h0M602.4 491.5h0M598.1 490.7h0M597.7 496.5h0M596.5 492.0h0M600.9 493.2h0M584.4 494.2h0M605.2 494.9h0M582.6 491.0h0M596.0 489.1h0M594.8 482.7h0M588.3 487.6h0M593.4 487.1h0M604.5 490.2h0M595.8 492.2h0M591.1 487.5h0M585.0 489.0h0M574.3 495.4h0M602.5 497.2h0M601.1 493.5h0M594.3 487.0h0M604.6 467.0h0M600.8 473.7h0M595.3 485.2h0M601.4 474.0h0M598.4 477.7h0M599.0 479.0h0M604.1 470.6h0M594.9 482.8h0M605.7 466.4h0M596.5 482.2h0M598.3 478.2h0M604.4 469.3h0M598.5 480.8h0M599.0 483.1h0M602.7 474.5h0M602.9 474.3h0M605.6 467.1h0M601.0 476.1h0M603.3 472.7h0M600.3 473.5h0M600.7 474.2h0M601.8 468.9h0M596.6 485.4h0M597.3 484.9h0M596.5 483.8h0M598.1 477.8h0M604.0 466.2h0M603.7 469.1h0M594.6 473.0h0M594.1 468.5h0M589.5 466.9h0M583.1 445.3h0M601.2 447.1h0M585.8 436.4h0M577.2 443.0h0M583.5 463.0h0M596.9 471.9h0M580.2 434.5h0M576.8 437.9h0M595.4 465.7h0M592.4 436.2h0M590.0 468.4h0M600.1 456.9h0M581.1 455.7h0M576.8 454.1h0M584.2 456.2h0M599.2 438.6h0M589.1 464.1h0M602.2 447.7h0M601.2 437.3h0M594.8 450.2h0M606.0 474.8h0M577.8 459.1h0M592.5 473.8h0M605.4 473.7h0M577.5 437.7h0M580.4 439.8h0M597.5 436.1h0M593.3 448.3h0M603.4 466.8h0M596.4 437.2h0M583.7 432.6h0M608.4 433.9h0M591.8 421.2h0M594.6 421.1h0M584.1 428.6h0M602.1 432.9h0M609.5 438.2h0M551.3 488.1h0M553.7 492.1h0M551.1 494.3h0M550.1 489.1h0M553.2 491.7h0M555.9 490.9h0M556.0 492.5h0M556.0 491.2h0M535.2 468.3h0M569.3 480.9h0M568.2 459.2h0M568.4 480.4h0M553.8 477.0h0M553.3 440.3h0M556.4 437.3h0M557.5 440.0h0M553.8 438.2h0M555.3 441.3h0M555.2 437.8h0M554.8 436.9h0M557.2 437.8h0M555.2 437.7h0M556.6 441.8h0M556.7 437.5h0M571.6 532.5h0M571.6 531.3h0M569.7 531.1h0M568.4 528.7h0M574.0 531.7h0M571.9 531.8h0M572.2 526.1h0M573.5 529.7h0M572.2 531.3h0M570.6 532.7h0M572.7 531.4h0M570.9 529.4h0M569.8 529.0h0M588.3 547.8h0M587.0 549.5h0M586.8 547.1h0M586.8 549.0h0M588.6 548.9h0M586.3 548.0h0M580.7 402.9h0M487.2 470.0h0M497.8 457.1h0M511.1 490.7h0M520.3 491.3h0M542.7 500.8h0M533.5 518.3h0M546.8 529.6h0M550.5 515.2h0M547.6 451.6h0M542.4 458.5h0M564.9 474.9h0M572.1 430.3h0" stroke="#7a1e60" stroke-width="2.5" stroke-linecap="round" fill="none"/>
<path d="M578.9 471.0h0M595.1 460.1h0M589.4 454.6h0M589.4 441.6h0M580.2 467.4h0M580.9 438.5h0M591.9 436.9h0M592.0 435.5h0M593.2 468.2h0M586.3 466.7h0M593.3 439.9h0M580.2 446.9h0M576.7 444.5h0M579.7 445.5h0M586.8 470.3h0M592.6 448.0h0M580.9 472.5h0M596.1 442.0h0M586.8 444.2h0M585.4 471.5h0M587.0 475.3h0M583.4 467.2h0M603.3 468.5h0M605.6 460.9h0M587.2 437.8h0M605.1 432.6h0M581.8 429.8h0M586.6 424.6h0M611.9 452.6h0M600.8 432.0h0M589.0 426.4h0M610.1 442.4h0M606.6 433.0h0M615.5 447.4h0M591.6 423.8h0M547.6 489.2h0M544.2 491.4h0M555.9 491.4h0M542.0 487.8h0M547.1 492.0h0M557.6 475.0h0M549.6 460.4h0M571.6 475.2h0M564.2 449.0h0M567.3 481.2h0M549.8 474.6h0M562.4 480.4h0M540.5 462.8h0M555.2 480.2h0M555.3 456.4h0M565.4 463.8h0M558.3 436.7h0M572.6 524.8h0M586.0 546.9h0M577.0 400.1h0M496.4 472.9h0M512.2 459.9h0M523.2 487.8h0M543.9 508.6h0M540.4 482.7h0M548.5 472.0h0M579.3 512.3h0M565.2 438.3h0" stroke="#c9212d" stroke-width="2.5" stroke-linecap="round" fill="none"/>
<path d="M597.9 458.3h0M586.5 447.2h0M582.0 466.9h0M593.5 457.7h0M585.3 446.4h0M594.7 469.5h0M587.8 465.7h0M582.6 458.5h0M591.4 461.3h0M576.1 454.0h0M605.5 466.3h0M596.0 461.0h0M577.8 446.2h0M578.5 461.3h0M588.4 462.5h0M581.2 453.8h0M588.4 440.7h0M595.6 451.8h0M593.8 468.8h0M596.5 466.2h0M580.3 449.4h0M594.4 464.9h0M605.9 454.0h0M588.6 461.3h0M589.3 465.8h0M581.1 430.0h0M583.1 429.8h0M610.8 446.0h0M588.9 421.6h0M583.9 427.9h0M584.5 425.6h0M604.0 428.6h0M598.0 425.9h0M603.6 426.4h0M610.9 435.7h0M552.8 494.4h0M553.5 492.0h0M544.2 489.7h0M544.5 491.3h0M544.8 490.7h0M565.0 455.7h0M551.3 468.1h0M551.8 467.6h0M554.4 449.3h0M567.1 454.6h0M566.2 449.9h0M574.2 459.0h0M560.9 462.0h0M566.1 443.1h0M565.1 438.6h0M538.6 464.5h0M554.7 442.7h0M571.6 526.5h0M588.1 549.8h0M497.8 475.5h0M510.2 456.2h0M522.6 461.9h0M533.2 518.9h0M537.6 475.5h0M537.0 485.0h0M580.7 513.7h0M566.3 444.7h0M566.3 457.6h0" stroke="#c9212d" stroke-width="2.5" stroke-linecap="round" fill="none"/>
</g>
<defs><linearGradient id="cb" x1="0" y1="0" x2="0" y2="1"><stop offset="0" stop-color="#7a1f7c"/><stop offset="0.14" stop-color="#8a2078"/><stop offset="0.3" stop-color="#c01c3c"/><stop offset="0.4" stop-color="#d8281e"/><stop offset="0.52" stop-color="#ea7a1e"/><stop offset="0.66" stop-color="#ecc432"/><stop offset="0.8" stop-color="#e4e470"/><stop offset="0.92" stop-color="#e6e6c0"/><stop offset="1" stop-color="#e4e4d8"/></linearGradient></defs>
<rect x="686.2" y="460.3" width="8.7" height="39.4" fill="url(#cb)" stroke="#8a8a8a" stroke-width="0.6"/>
<line x1="686.2" y1="467.5" x2="687.6" y2="467.5" stroke="#555" stroke-width="0.4"/>
<line x1="693.5" y1="467.5" x2="694.9" y2="467.5" stroke="#555" stroke-width="0.4"/>
<line x1="686.2" y1="473.8" x2="687.6" y2="473.8" stroke="#555" stroke-width="0.4"/>
<line x1="693.5" y1="473.8" x2="694.9" y2="473.8" stroke="#555" stroke-width="0.4"/>
<line x1="686.2" y1="480.3" x2="687.6" y2="480.3" stroke="#555" stroke-width="0.4"/>
<line x1="693.5" y1="480.3" x2="694.9" y2="480.3" stroke="#555" stroke-width="0.4"/>
<line x1="686.2" y1="486.7" x2="687.6" y2="486.7" stroke="#555" stroke-width="0.4"/>
<line x1="693.5" y1="486.7" x2="694.9" y2="486.7" stroke="#555" stroke-width="0.4"/>
<line x1="686.2" y1="492.9" x2="687.6" y2="492.9" stroke="#555" stroke-width="0.4"/>
<line x1="693.5" y1="492.9" x2="694.9" y2="492.9" stroke="#555" stroke-width="0.4"/>
<text transform="translate(658.7,459.8) rotate(90) scale(0.98,1.22)" font-weight="bold" font-size="8" fill="#000">HIV−NL−CI</text>
<text transform="translate(698.2,458.7) rotate(90) scale(1.4,0.72)" text-anchor="middle" font-size="7.6" style="stroke-width:.3px">7</text>
<text transform="translate(698.2,465.4) rotate(90) scale(1.4,0.72)" text-anchor="middle" font-size="7.6" style="stroke-width:.3px">6</text>
<text transform="translate(698.2,472.6) rotate(90) scale(1.4,0.72)" text-anchor="middle" font-size="7.6" style="stroke-width:.3px">5</text>
<text transform="translate(698.2,479.8) rotate(90) scale(1.4,0.72)" text-anchor="middle" font-size="7.6" style="stroke-width:.3px">4</text>
<text transform="translate(698.2,486.6) rotate(90) scale(1.4,0.72)" text-anchor="middle" font-size="7.6" style="stroke-width:.3px">3</text>
<text transform="translate(698.2,492.8) rotate(90) scale(1.4,0.72)" text-anchor="middle" font-size="7.6" style="stroke-width:.3px">2</text>
<text transform="translate(698.2,498.4) rotate(90) scale(1.4,0.72)" text-anchor="middle" font-size="7.6" style="stroke-width:.3px">1</text>
</svg>
</body></html>
